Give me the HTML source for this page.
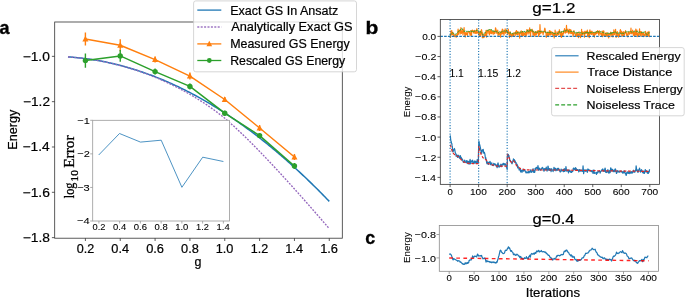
<!DOCTYPE html>
<html><head><meta charset="utf-8"><style>
html,body{margin:0;padding:0;background:#fff;width:685px;height:297px;overflow:hidden}
svg{display:block;filter:blur(0.3px)}
</style></head><body>
<svg width="685" height="297" viewBox="0 0 685 297">
<defs>
<clipPath id="clipa"><rect x="54.7" y="22.0" width="287.6" height="216.2"/></clipPath>
<clipPath id="clipb"><rect x="440.3" y="19.55" width="219.15000000000003" height="164.79999999999998"/></clipPath>
<clipPath id="clipc"><rect x="439.3" y="225.55" width="219.3" height="45.75"/></clipPath>
</defs>
<rect width="685" height="297" fill="#fff"/>
<g clip-path="url(#clipa)">
<polyline points="67.98,56.92 69.29,57.01 70.61,57.10 71.92,57.20 73.23,57.31 74.55,57.42 75.86,57.54 77.17,57.67 78.48,57.81 79.80,57.95 81.11,58.09 82.42,58.25 83.74,58.40 85.05,58.57 86.36,58.74 87.68,58.92 88.99,59.11 90.30,59.30 91.62,59.50 92.93,59.70 94.24,59.91 95.55,60.13 96.87,60.35 98.18,60.58 99.49,60.82 100.81,61.06 102.12,61.31 103.43,61.57 104.75,61.83 106.06,62.10 107.37,62.38 108.69,62.66 110.00,62.95 111.31,63.24 112.62,63.54 113.94,63.85 115.25,64.16 116.56,64.48 117.88,64.81 119.19,65.14 120.50,65.48 121.82,65.83 123.13,66.18 124.44,66.54 125.75,66.91 127.07,67.28 128.38,67.66 129.69,68.04 131.01,68.43 132.32,68.83 133.63,69.23 134.95,69.64 136.26,70.06 137.57,70.48 138.89,70.91 140.20,71.35 141.51,71.79 142.82,72.24 144.14,72.70 145.45,73.16 146.76,73.63 148.08,74.10 149.39,74.58 150.70,75.07 152.02,75.57 153.33,76.07 154.64,76.57 155.96,77.09 157.27,77.61 158.58,78.13 159.89,78.67 161.21,79.21 162.52,79.75 163.83,80.30 165.15,80.86 166.46,81.43 167.77,82.00 169.09,82.58 170.40,83.16 171.71,83.75 173.03,84.35 174.34,84.95 175.65,85.56 176.96,86.18 178.28,86.80 179.59,87.43 180.90,88.07 182.22,88.71 183.53,89.36 184.84,90.01 186.16,90.67 187.47,91.34 188.78,92.02 190.10,92.70 191.41,93.38 192.72,94.08 194.03,94.78 195.35,95.48 196.66,96.20 197.97,96.92 199.29,97.64 200.60,98.38 201.91,99.11 203.23,99.86 204.54,100.61 205.85,101.37 207.16,102.13 208.48,102.91 209.79,103.68 211.10,104.47 212.42,105.26 213.73,106.05 215.04,106.86 216.36,107.67 217.67,108.48 218.98,109.30 220.30,110.13 221.61,110.97 222.92,111.81 224.23,112.66 225.55,113.51 226.86,114.37 228.17,115.24 229.49,116.12 230.80,117.00 232.11,117.88 233.43,118.78 234.74,119.68 236.05,120.58 237.37,121.50 238.68,122.41 239.99,123.34 241.30,124.27 242.62,125.21 243.93,126.15 245.24,127.11 246.56,128.06 247.87,129.03 249.18,130.00 250.50,130.98 251.81,131.96 253.12,132.95 254.44,133.94 255.75,134.95 257.06,135.96 258.37,136.97 259.69,137.99 261.00,139.02 262.31,140.06 263.63,141.10 264.94,142.15 266.25,143.20 267.57,144.26 268.88,145.33 270.19,146.40 271.51,147.48 272.82,148.57 274.13,149.66 275.44,150.76 276.76,151.87 278.07,152.98 279.38,154.10 280.70,155.22 282.01,156.35 283.32,157.49 284.64,158.64 285.95,159.79 287.26,160.94 288.57,162.11 289.89,163.28 291.20,164.45 292.51,165.64 293.83,166.83 295.14,168.02 296.45,169.22 297.77,170.43 299.08,171.65 300.39,172.87 301.71,174.10 303.02,175.33 304.33,176.57 305.64,177.82 306.96,179.07 308.27,180.34 309.58,181.60 310.90,182.87 312.21,184.15 313.52,185.44 314.84,186.73 316.15,188.03 317.46,189.34 318.78,190.65 320.09,191.97 321.40,193.29 322.71,194.62 324.03,195.96 325.34,197.30 326.65,198.65 327.97,200.01 329.28,201.37" fill="none" stroke="#1f77b4" stroke-width="1.5" stroke-linejoin="round" />
<polyline points="67.98,56.92 69.29,57.01 70.61,57.10 71.92,57.20 73.23,57.31 74.55,57.43 75.86,57.55 77.17,57.67 78.48,57.81 79.80,57.95 81.11,58.10 82.42,58.25 83.74,58.41 85.05,58.58 86.36,58.75 87.68,58.93 88.99,59.12 90.30,59.31 91.62,59.51 92.93,59.71 94.24,59.93 95.55,60.15 96.87,60.37 98.18,60.60 99.49,60.84 100.81,61.09 102.12,61.34 103.43,61.60 104.75,61.87 106.06,62.14 107.37,62.42 108.69,62.70 110.00,62.99 111.31,63.29 112.62,63.60 113.94,63.91 115.25,64.23 116.56,64.56 117.88,64.89 119.19,65.23 120.50,65.58 121.82,65.93 123.13,66.29 124.44,66.66 125.75,67.03 127.07,67.42 128.38,67.80 129.69,68.20 131.01,68.60 132.32,69.01 133.63,69.43 134.95,69.85 136.26,70.28 137.57,70.72 138.89,71.16 140.20,71.62 141.51,72.08 142.82,72.54 144.14,73.02 145.45,73.50 146.76,73.99 148.08,74.48 149.39,74.98 150.70,75.50 152.02,76.01 153.33,76.54 154.64,77.07 155.96,77.61 157.27,78.16 158.58,78.72 159.89,79.28 161.21,79.85 162.52,80.43 163.83,81.02 165.15,81.61 166.46,82.21 167.77,82.82 169.09,83.44 170.40,84.07 171.71,84.70 173.03,85.35 174.34,86.00 175.65,86.66 176.96,87.33 178.28,88.00 179.59,88.69 180.90,89.38 182.22,90.08 183.53,90.79 184.84,91.51 186.16,92.24 187.47,92.98 188.78,93.72 190.10,94.48 191.41,95.24 192.72,96.01 194.03,96.80 195.35,97.59 196.66,98.39 197.97,99.21 199.29,100.03 200.60,100.86 201.91,101.70 203.23,102.55 204.54,103.42 205.85,104.29 207.16,105.18 208.48,106.07 209.79,106.98 211.10,107.90 212.42,108.83 213.73,109.78 215.04,110.73 216.36,111.70 217.67,112.68 218.98,113.68 220.30,114.69 221.61,115.72 222.92,116.77 224.23,117.83 225.55,118.92 226.86,120.04 228.17,121.17 229.49,122.32 230.80,123.48 232.11,124.66 233.43,125.84 234.74,127.04 236.05,128.26 237.37,129.48 238.68,130.71 239.99,131.95 241.30,133.20 242.62,134.46 243.93,135.73 245.24,137.01 246.56,138.29 247.87,139.59 249.18,140.89 250.50,142.19 251.81,143.51 253.12,144.83 254.44,146.16 255.75,147.49 257.06,148.83 258.37,150.17 259.69,151.53 261.00,152.88 262.31,154.25 263.63,155.61 264.94,156.99 266.25,158.36 267.57,159.75 268.88,161.13 270.19,162.53 271.51,163.92 272.82,165.32 274.13,166.73 275.44,168.14 276.76,169.55 278.07,170.97 279.38,172.39 280.70,173.82 282.01,175.25 283.32,176.68 284.64,178.12 285.95,179.56 287.26,181.00 288.57,182.45 289.89,183.90 291.20,185.35 292.51,186.81 293.83,188.27 295.14,189.73 296.45,191.20 297.77,192.67 299.08,194.14 300.39,195.62 301.71,197.09 303.02,198.57 304.33,200.06 305.64,201.54 306.96,203.03 308.27,204.52 309.58,206.01 310.90,207.51 312.21,209.01 313.52,210.51 314.84,212.01 316.15,213.52 317.46,215.02 318.78,216.53 320.09,218.04 321.40,219.56 322.71,221.07 324.03,222.59 325.34,224.11 326.65,225.63 327.97,227.16 329.28,228.68" fill="none" stroke="#9467bd" stroke-width="1.35" stroke-linejoin="round" stroke-dasharray="1.9 1.3"/>
<line x1="85.40" y1="32.60" x2="85.40" y2="45.60" stroke="#ff7f0e" stroke-width="1.4" />
<line x1="120.24" y1="39.20" x2="120.24" y2="51.20" stroke="#ff7f0e" stroke-width="1.4" />
<line x1="155.08" y1="56.60" x2="155.08" y2="62.60" stroke="#ff7f0e" stroke-width="1.4" />
<line x1="189.92" y1="72.60" x2="189.92" y2="79.60" stroke="#ff7f0e" stroke-width="1.4" />
<line x1="224.76" y1="97.00" x2="224.76" y2="102.00" stroke="#ff7f0e" stroke-width="1.4" />
<line x1="259.60" y1="125.00" x2="259.60" y2="131.00" stroke="#ff7f0e" stroke-width="1.4" />
<line x1="294.44" y1="154.00" x2="294.44" y2="160.00" stroke="#ff7f0e" stroke-width="1.4" />
<line x1="85.40" y1="53.40" x2="85.40" y2="67.80" stroke="#2ca02c" stroke-width="1.4" />
<line x1="120.24" y1="50.10" x2="120.24" y2="61.70" stroke="#2ca02c" stroke-width="1.4" />
<line x1="155.08" y1="68.60" x2="155.08" y2="74.60" stroke="#2ca02c" stroke-width="1.4" />
<line x1="189.92" y1="83.40" x2="189.92" y2="89.40" stroke="#2ca02c" stroke-width="1.4" />
<line x1="224.76" y1="110.70" x2="224.76" y2="115.70" stroke="#2ca02c" stroke-width="1.4" />
<line x1="259.60" y1="133.60" x2="259.60" y2="137.60" stroke="#2ca02c" stroke-width="1.4" />
<line x1="294.44" y1="163.00" x2="294.44" y2="169.00" stroke="#2ca02c" stroke-width="1.4" />
<polyline points="85.40,39.10 120.24,45.20 155.08,59.60 189.92,76.10 224.76,99.50 259.60,128.00 294.44,157.00" fill="none" stroke="#ff7f0e" stroke-width="1.5" stroke-linejoin="round" />
<polyline points="85.40,60.60 120.24,55.90 155.08,71.60 189.92,86.40 224.76,113.20 259.60,135.60 294.44,166.00" fill="none" stroke="#2ca02c" stroke-width="1.5" stroke-linejoin="round" />
<path d="M85.40,35.80 L88.43,41.58 L82.38,41.58 Z" fill="#ff7f0e"/>
<path d="M120.24,41.90 L123.27,47.68 L117.21,47.68 Z" fill="#ff7f0e"/>
<path d="M155.08,56.30 L158.10,62.08 L152.05,62.08 Z" fill="#ff7f0e"/>
<path d="M189.92,72.80 L192.94,78.57 L186.89,78.57 Z" fill="#ff7f0e"/>
<path d="M224.76,96.20 L227.78,101.97 L221.73,101.97 Z" fill="#ff7f0e"/>
<path d="M259.60,124.70 L262.62,130.47 L256.58,130.47 Z" fill="#ff7f0e"/>
<path d="M294.44,153.70 L297.46,159.47 L291.41,159.47 Z" fill="#ff7f0e"/>
<circle cx="85.40" cy="60.60" r="2.7" fill="#2ca02c"/>
<circle cx="120.24" cy="55.90" r="2.7" fill="#2ca02c"/>
<circle cx="155.08" cy="71.60" r="2.7" fill="#2ca02c"/>
<circle cx="189.92" cy="86.40" r="2.7" fill="#2ca02c"/>
<circle cx="224.76" cy="113.20" r="2.7" fill="#2ca02c"/>
<circle cx="259.60" cy="135.60" r="2.7" fill="#2ca02c"/>
<circle cx="294.44" cy="166.00" r="2.7" fill="#2ca02c"/>
</g>
<rect x="54.7" y="22.0" width="287.6" height="216.2" fill="none" stroke="#333" stroke-width="0.8"/>
<line x1="51.90" y1="56.35" x2="54.70" y2="56.35" stroke="#333" stroke-width="0.8" />
<text x="22.68" y="60.65" font-family='"Liberation Sans", sans-serif' font-size="12.19" fill="#000" stroke="#000" stroke-width="0.2" textLength="27.16" lengthAdjust="spacingAndGlyphs">−1.0</text>
<line x1="51.90" y1="101.67" x2="54.70" y2="101.67" stroke="#333" stroke-width="0.8" />
<text x="23.07" y="105.97" font-family='"Liberation Sans", sans-serif' font-size="12.19" fill="#000" stroke="#000" stroke-width="0.2" textLength="26.91" lengthAdjust="spacingAndGlyphs">−1.2</text>
<line x1="51.90" y1="146.99" x2="54.70" y2="146.99" stroke="#333" stroke-width="0.8" />
<text x="22.56" y="151.29" font-family='"Liberation Sans", sans-serif' font-size="12.19" fill="#000" stroke="#000" stroke-width="0.2" textLength="27.14" lengthAdjust="spacingAndGlyphs">−1.4</text>
<line x1="51.90" y1="192.31" x2="54.70" y2="192.31" stroke="#333" stroke-width="0.8" />
<text x="22.64" y="196.61" font-family='"Liberation Sans", sans-serif' font-size="12.19" fill="#000" stroke="#000" stroke-width="0.2" textLength="27.27" lengthAdjust="spacingAndGlyphs">−1.6</text>
<line x1="51.90" y1="237.63" x2="54.70" y2="237.63" stroke="#333" stroke-width="0.8" />
<text x="22.70" y="241.93" font-family='"Liberation Sans", sans-serif' font-size="12.19" fill="#000" stroke="#000" stroke-width="0.2" textLength="27.20" lengthAdjust="spacingAndGlyphs">−1.8</text>
<line x1="85.40" y1="238.20" x2="85.40" y2="241.00" stroke="#333" stroke-width="0.8" />
<text x="76.72" y="252.60" font-family='"Liberation Sans", sans-serif' font-size="12.19" fill="#000" stroke="#000" stroke-width="0.2" textLength="17.50" lengthAdjust="spacingAndGlyphs">0.2</text>
<line x1="120.24" y1="238.20" x2="120.24" y2="241.00" stroke="#333" stroke-width="0.8" />
<text x="111.30" y="252.60" font-family='"Liberation Sans", sans-serif' font-size="12.19" fill="#000" stroke="#000" stroke-width="0.2" textLength="17.76" lengthAdjust="spacingAndGlyphs">0.4</text>
<line x1="155.08" y1="238.20" x2="155.08" y2="241.00" stroke="#333" stroke-width="0.8" />
<text x="146.17" y="252.60" font-family='"Liberation Sans", sans-serif' font-size="12.19" fill="#000" stroke="#000" stroke-width="0.2" textLength="17.87" lengthAdjust="spacingAndGlyphs">0.6</text>
<line x1="189.92" y1="238.20" x2="189.92" y2="241.00" stroke="#333" stroke-width="0.8" />
<text x="181.05" y="252.60" font-family='"Liberation Sans", sans-serif' font-size="12.19" fill="#000" stroke="#000" stroke-width="0.2" textLength="17.80" lengthAdjust="spacingAndGlyphs">0.8</text>
<line x1="224.76" y1="238.20" x2="224.76" y2="241.00" stroke="#333" stroke-width="0.8" />
<text x="215.66" y="252.60" font-family='"Liberation Sans", sans-serif' font-size="12.19" fill="#000" stroke="#000" stroke-width="0.2" textLength="17.73" lengthAdjust="spacingAndGlyphs">1.0</text>
<line x1="259.60" y1="238.20" x2="259.60" y2="241.00" stroke="#333" stroke-width="0.8" />
<text x="250.71" y="252.60" font-family='"Liberation Sans", sans-serif' font-size="12.19" fill="#000" stroke="#000" stroke-width="0.2" textLength="17.46" lengthAdjust="spacingAndGlyphs">1.2</text>
<line x1="294.44" y1="238.20" x2="294.44" y2="241.00" stroke="#333" stroke-width="0.8" />
<text x="285.28" y="252.60" font-family='"Liberation Sans", sans-serif' font-size="12.19" fill="#000" stroke="#000" stroke-width="0.2" textLength="17.72" lengthAdjust="spacingAndGlyphs">1.4</text>
<line x1="329.28" y1="238.20" x2="329.28" y2="241.00" stroke="#333" stroke-width="0.8" />
<text x="320.15" y="252.60" font-family='"Liberation Sans", sans-serif' font-size="12.19" fill="#000" stroke="#000" stroke-width="0.2" textLength="17.84" lengthAdjust="spacingAndGlyphs">1.6</text>
<text x="194.56" y="266.00" font-family='"Liberation Sans", sans-serif' font-size="12.19" fill="#000" stroke="#000" stroke-width="0.2" textLength="6.95" lengthAdjust="spacingAndGlyphs">g</text>
<text x="-149.73" y="17.10" font-family='"Liberation Sans", sans-serif' font-size="12.19" fill="#000" stroke="#000" stroke-width="0.2" textLength="40.05" lengthAdjust="spacingAndGlyphs" transform="rotate(-90 0 0)">Energy</text>
<rect x="92.7" y="120.3" width="136.89999999999998" height="100.7" fill="#fff" stroke="#999" stroke-width="0.8"/>
<polyline points="98.70,155.00 119.50,133.50 140.50,142.10 161.20,140.20 181.90,187.30 202.70,157.20 223.40,161.50" fill="none" stroke="#1f77b4" stroke-width="0.8" stroke-linejoin="round" />
<line x1="90.20" y1="120.30" x2="92.70" y2="120.30" stroke="#999" stroke-width="0.8" />
<text x="77.27" y="123.60" font-family='"Liberation Sans", sans-serif' font-size="9.54" fill="#000" stroke="#000" stroke-width="0.08" textLength="12.56" lengthAdjust="spacingAndGlyphs">−1</text>
<line x1="90.20" y1="153.87" x2="92.70" y2="153.87" stroke="#999" stroke-width="0.8" />
<text x="77.35" y="157.17" font-family='"Liberation Sans", sans-serif' font-size="9.54" fill="#000" stroke="#000" stroke-width="0.08" textLength="12.51" lengthAdjust="spacingAndGlyphs">−2</text>
<line x1="90.20" y1="187.44" x2="92.70" y2="187.44" stroke="#999" stroke-width="0.8" />
<text x="77.16" y="190.74" font-family='"Liberation Sans", sans-serif' font-size="9.54" fill="#000" stroke="#000" stroke-width="0.08" textLength="12.63" lengthAdjust="spacingAndGlyphs">−3</text>
<line x1="90.20" y1="221.01" x2="92.70" y2="221.01" stroke="#999" stroke-width="0.8" />
<text x="76.94" y="224.31" font-family='"Liberation Sans", sans-serif' font-size="9.54" fill="#000" stroke="#000" stroke-width="0.08" textLength="12.68" lengthAdjust="spacingAndGlyphs">−4</text>
<line x1="98.92" y1="221.00" x2="98.92" y2="223.50" stroke="#999" stroke-width="0.8" />
<text x="92.51" y="230.20" font-family='"Liberation Sans", sans-serif' font-size="9.01" fill="#000" stroke="#000" stroke-width="0.08" textLength="12.94" lengthAdjust="spacingAndGlyphs">0.2</text>
<line x1="119.66" y1="221.00" x2="119.66" y2="223.50" stroke="#999" stroke-width="0.8" />
<text x="113.05" y="230.20" font-family='"Liberation Sans", sans-serif' font-size="9.01" fill="#000" stroke="#000" stroke-width="0.08" textLength="13.13" lengthAdjust="spacingAndGlyphs">0.4</text>
<line x1="140.40" y1="221.00" x2="140.40" y2="223.50" stroke="#999" stroke-width="0.8" />
<text x="133.82" y="230.20" font-family='"Liberation Sans", sans-serif' font-size="9.01" fill="#000" stroke="#000" stroke-width="0.08" textLength="13.21" lengthAdjust="spacingAndGlyphs">0.6</text>
<line x1="161.14" y1="221.00" x2="161.14" y2="223.50" stroke="#999" stroke-width="0.8" />
<text x="154.58" y="230.20" font-family='"Liberation Sans", sans-serif' font-size="9.01" fill="#000" stroke="#000" stroke-width="0.08" textLength="13.16" lengthAdjust="spacingAndGlyphs">0.8</text>
<line x1="181.88" y1="221.00" x2="181.88" y2="223.50" stroke="#999" stroke-width="0.8" />
<text x="175.15" y="230.20" font-family='"Liberation Sans", sans-serif' font-size="9.01" fill="#000" stroke="#000" stroke-width="0.08" textLength="13.11" lengthAdjust="spacingAndGlyphs">1.0</text>
<line x1="202.62" y1="221.00" x2="202.62" y2="223.50" stroke="#999" stroke-width="0.8" />
<text x="196.05" y="230.20" font-family='"Liberation Sans", sans-serif' font-size="9.01" fill="#000" stroke="#000" stroke-width="0.08" textLength="12.91" lengthAdjust="spacingAndGlyphs">1.2</text>
<line x1="223.36" y1="221.00" x2="223.36" y2="223.50" stroke="#999" stroke-width="0.8" />
<text x="216.59" y="230.20" font-family='"Liberation Sans", sans-serif' font-size="9.01" fill="#000" stroke="#000" stroke-width="0.08" textLength="13.10" lengthAdjust="spacingAndGlyphs">1.4</text>
<text x="-198.20" y="73.60" font-family='"Liberation Serif", serif' font-size="14.00" fill="#000" stroke="#000" stroke-width="0.3" textLength="15.60" lengthAdjust="spacingAndGlyphs" transform="rotate(-90 0 0)">log</text>
<text x="-181.40" y="78.40" font-family='"Liberation Serif", serif' font-size="9.80" fill="#000" stroke="#000" stroke-width="0.3" textLength="11.20" lengthAdjust="spacingAndGlyphs" transform="rotate(-90 0 0)">10</text>
<text x="-167.80" y="73.60" font-family='"Liberation Serif", serif' font-size="14.00" fill="#000" stroke="#000" stroke-width="0.3" textLength="32.40" lengthAdjust="spacingAndGlyphs" transform="rotate(-90 0 0)">Error</text>
<text x="-0.53" y="34.40" font-family='"Liberation Sans", sans-serif' font-size="19.28" font-weight="bold" fill="#000" stroke="#000" stroke-width="0.35" textLength="10.04" lengthAdjust="spacingAndGlyphs">a</text>
<rect x="193.6" y="0.9" width="162.9" height="70.9" rx="2.2" fill="#fff" fill-opacity="0.8" stroke="#cccccc" stroke-width="0.8"/>
<line x1="197.30" y1="10.10" x2="221.30" y2="10.10" stroke="#1f77b4" stroke-width="1.3" />
<line x1="197.30" y1="27.00" x2="221.30" y2="27.00" stroke="#9467bd" stroke-width="1.4" stroke-dasharray="2.0 1.4" stroke-opacity="0.9"/>
<line x1="197.30" y1="43.90" x2="221.30" y2="43.90" stroke="#ff7f0e" stroke-width="1.3" />
<path d="M209.30,40.78 L212.16,46.24 L206.44,46.24 Z" fill="#ff7f0e"/>
<line x1="197.30" y1="60.50" x2="221.30" y2="60.50" stroke="#2ca02c" stroke-width="1.3" />
<circle cx="209.30" cy="60.50" r="2.4" fill="#2ca02c"/>
<text x="230.18" y="14.50" font-family='"Liberation Sans", sans-serif' font-size="12.13" fill="#000" stroke="#000" stroke-width="0.2" textLength="108.10" lengthAdjust="spacingAndGlyphs">Exact GS In Ansatz</text>
<text x="231.18" y="31.40" font-family='"Liberation Sans", sans-serif' font-size="12.13" fill="#000" stroke="#000" stroke-width="0.2" textLength="121.30" lengthAdjust="spacingAndGlyphs">Analytically Exact GS</text>
<text x="230.18" y="48.30" font-family='"Liberation Sans", sans-serif' font-size="12.13" fill="#000" stroke="#000" stroke-width="0.2" textLength="119.47" lengthAdjust="spacingAndGlyphs">Measured GS Energy</text>
<text x="230.19" y="64.90" font-family='"Liberation Sans", sans-serif' font-size="12.13" fill="#000" stroke="#000" stroke-width="0.2" textLength="115.05" lengthAdjust="spacingAndGlyphs">Rescaled GS Energy</text>
<g clip-path="url(#clipb)">
<polyline points="450.10,37.23 450.39,37.35 450.67,35.53 450.96,30.89 451.24,33.96 451.53,34.68 451.81,30.66 452.10,34.65 452.38,33.91 452.67,34.46 452.95,32.27 453.24,35.19 453.52,35.89 453.81,35.23 454.09,34.20 454.38,36.44 454.66,36.24 454.95,36.28 455.24,37.00 455.52,35.49 455.81,35.63 456.09,35.78 456.38,34.91 456.66,37.08 456.95,36.34 457.23,33.75 457.52,35.47 457.80,32.04 458.09,29.07 458.37,34.40 458.66,32.43 458.94,31.20 459.23,30.24 459.51,31.79 459.80,31.12 460.09,34.18 460.37,32.66 460.66,31.13 460.94,27.46 461.23,32.97 461.51,33.27 461.80,31.95 462.08,30.78 462.37,31.03 462.65,30.66 462.94,34.92 463.22,33.33 463.51,29.70 463.79,30.77 464.08,27.51 464.37,32.72 464.65,33.59 464.94,36.26 465.22,37.11 465.51,32.58 465.79,33.49 466.08,34.27 466.36,34.52 466.65,32.69 466.93,34.43 467.22,34.44 467.50,35.46 467.79,33.15 468.07,31.84 468.36,31.38 468.64,32.02 468.93,31.41 469.22,31.87 469.50,33.07 469.79,33.84 470.07,35.48 470.36,34.89 470.64,33.74 470.93,30.64 471.21,32.74 471.50,35.48 471.78,31.50 472.07,30.19 472.35,30.07 472.64,30.61 472.92,31.28 473.21,30.76 473.49,32.90 473.78,31.00 474.07,32.08 474.35,31.26 474.64,30.32 474.92,33.45 475.21,32.81 475.49,33.15 475.78,32.33 476.06,30.29 476.35,33.53 476.63,31.76 476.92,28.46 477.20,32.15 477.49,33.07 477.77,32.73 478.06,32.26 478.34,31.67 478.63,33.07 478.92,34.91 479.20,35.56 479.49,34.91 479.77,33.49 480.06,30.96 480.34,35.71 480.63,35.22 480.91,33.46 481.20,32.57 481.48,29.62 481.77,30.60 482.05,33.50 482.34,37.68 482.62,32.87 482.91,33.85 483.19,37.72 483.48,37.55 483.77,36.99 484.05,37.32 484.34,34.85 484.62,34.51 484.91,35.38 485.19,36.04 485.48,32.07 485.76,35.35 486.05,30.24 486.33,30.54 486.62,37.11 486.90,32.51 487.19,33.36 487.47,30.74 487.76,30.70 488.04,29.98 488.33,30.47 488.62,31.74 488.90,33.64 489.19,33.67 489.47,35.01 489.76,31.25 490.04,29.72 490.33,32.46 490.61,33.31 490.90,30.94 491.18,30.07 491.47,33.61 491.75,32.96 492.04,32.27 492.32,31.45 492.61,32.58 492.90,33.36 493.18,34.43 493.47,31.70 493.75,31.27 494.04,32.89 494.32,31.10 494.61,33.70 494.89,33.12 495.18,32.63 495.46,27.83 495.75,28.18 496.03,30.02 496.32,31.01 496.60,30.60 496.89,33.35 497.17,33.20 497.46,33.07 497.75,30.11 498.03,35.62 498.32,34.23 498.60,34.72 498.89,32.36 499.17,32.67 499.46,33.89 499.74,33.42 500.03,35.29 500.31,34.19 500.60,37.16 500.88,31.46 501.17,31.40 501.45,34.27 501.74,32.57 502.02,31.33 502.31,29.04 502.60,33.82 502.88,29.48 503.17,32.42 503.45,32.48 503.74,33.96 504.02,35.28 504.31,32.02 504.59,30.31 504.88,31.09 505.16,28.94 505.45,33.24 505.73,32.33 506.02,32.73 506.30,30.05 506.59,30.66 506.87,30.14 507.16,32.02 507.45,33.16 507.73,34.37 508.02,32.91 508.30,28.98 508.59,33.38 508.87,33.44 509.16,32.47 509.44,37.72 509.73,35.42 510.01,31.70 510.30,32.00 510.58,33.92 510.87,34.14 511.15,36.09 511.44,36.76 511.72,34.09 512.01,34.63 512.30,36.08 512.58,34.02 512.87,33.53 513.15,35.81 513.44,35.86 513.72,32.74 514.01,33.31 514.29,33.11 514.58,33.38 514.86,32.79 515.15,35.99 515.43,32.96 515.72,31.53 516.00,33.88 516.29,30.47 516.57,30.54 516.86,34.36 517.15,31.58 517.43,31.58 517.72,34.84 518.00,34.95 518.29,33.61 518.57,33.55 518.86,31.82 519.14,33.50 519.43,33.47 519.71,38.29 520.00,33.36 520.28,33.67 520.57,32.75 520.85,33.28 521.14,30.83 521.43,31.19 521.71,36.00 522.00,31.61 522.28,31.64 522.57,33.61 522.85,35.90 523.14,31.88 523.42,34.89 523.71,32.83 523.99,35.35 524.28,34.06 524.56,33.21 524.85,34.55 525.13,34.71 525.42,32.27 525.70,36.75 525.99,33.34 526.28,35.80 526.56,32.81 526.85,29.63 527.13,29.55 527.42,31.19 527.70,32.16 527.99,34.29 528.27,33.13 528.56,32.42 528.84,29.90 529.13,31.31 529.41,32.58 529.70,27.81 529.98,33.68 530.27,34.23 530.55,36.37 530.84,30.32 531.13,31.62 531.41,31.70 531.70,29.91 531.98,29.37 532.27,29.41 532.55,32.15 532.84,32.93 533.12,35.65 533.41,33.67 533.69,31.14 533.98,33.06 534.26,33.87 534.55,34.93 534.83,36.12 535.12,33.17 535.40,34.79 535.69,31.49 535.98,32.95 536.26,34.99 536.55,33.35 536.83,33.76 537.12,31.33 537.40,31.23 537.69,33.00 537.97,30.54 538.26,30.64 538.54,36.30 538.83,34.14 539.11,31.66 539.40,30.65 539.68,34.77 539.97,24.54 540.25,31.11 540.54,33.46 540.83,31.61 541.11,33.06 541.40,30.96 541.68,31.75 541.97,32.19 542.25,32.22 542.54,32.84 542.82,32.40 543.11,34.59 543.39,32.76 543.68,31.43 543.96,32.07 544.25,31.94 544.53,29.20 544.82,28.13 545.10,28.86 545.39,32.04 545.68,31.42 545.96,32.61 546.25,37.31 546.53,36.59 546.82,33.89 547.10,32.76 547.39,35.69 547.67,32.31 547.96,34.69 548.24,34.83 548.53,36.58 548.81,32.49 549.10,34.39 549.38,30.59 549.67,32.77 549.96,34.93 550.24,35.07 550.53,31.02 550.81,34.00 551.10,34.45 551.38,33.60 551.67,31.83 551.95,32.55 552.24,32.46 552.52,34.61 552.81,34.86 553.09,36.20 553.38,36.20 553.66,32.84 553.95,33.91 554.23,37.88 554.52,33.34 554.81,35.23 555.09,30.18 555.38,32.13 555.66,33.65 555.95,35.51 556.23,35.69 556.52,35.04 556.80,35.79 557.09,31.70 557.37,35.08 557.66,34.90 557.94,34.28 558.23,33.59 558.51,31.60 558.80,34.45 559.08,32.39 559.37,29.70 559.66,31.40 559.94,31.80 560.23,33.24 560.51,36.35 560.80,33.45 561.08,33.25 561.37,37.35 561.65,31.68 561.94,32.42 562.22,34.36 562.51,35.02 562.79,36.55 563.08,33.02 563.36,34.03 563.65,32.21 563.93,30.75 564.22,30.42 564.51,28.68 564.79,31.83 565.08,33.13 565.36,30.29 565.65,32.91 565.93,30.82 566.22,28.85 566.50,25.41 566.79,31.31 567.07,32.58 567.36,31.21 567.64,30.69 567.93,29.11 568.21,31.54 568.50,32.07 568.78,33.82 569.07,33.28 569.36,30.13 569.64,29.31 569.93,32.57 570.21,29.54 570.50,32.05 570.78,33.70 571.07,29.96 571.35,33.08 571.64,33.27 571.92,33.53 572.21,31.75 572.49,32.52 572.78,33.40 573.06,36.08 573.35,35.02 573.63,33.70 573.92,30.65 574.21,32.76 574.49,32.57 574.78,33.49 575.06,33.95 575.35,35.40 575.63,35.82 575.92,35.38 576.20,34.35 576.49,36.41 576.77,32.32 577.06,33.04 577.34,35.78 577.63,33.55 577.91,35.70 578.20,35.30 578.49,37.61 578.77,36.49 579.06,31.91 579.34,33.96 579.63,34.08 579.91,35.11 580.20,34.89 580.48,37.64 580.77,36.87 581.05,32.29 581.34,32.60 581.62,29.41 581.91,35.44 582.19,34.64 582.48,34.71 582.76,31.93 583.05,32.49 583.34,34.04 583.62,32.84 583.91,32.33 584.19,31.98 584.48,37.16 584.76,34.15 585.05,31.16 585.33,31.86 585.62,32.15 585.90,33.57 586.19,32.62 586.47,31.35 586.76,32.05 587.04,33.31 587.33,30.17 587.61,36.29 587.90,36.58 588.19,32.41 588.47,32.38 588.76,34.59 589.04,36.35 589.33,37.76 589.61,31.19 589.90,29.78 590.18,31.56 590.47,33.93 590.75,31.60 591.04,33.26 591.32,34.15 591.61,34.48 591.89,30.99 592.18,32.60 592.46,33.41 592.75,32.22 593.04,34.98 593.32,33.39 593.61,35.92 593.89,32.79 594.18,35.96 594.46,37.24 594.75,32.54 595.03,33.59 595.32,34.55 595.60,32.03 595.89,33.98 596.17,33.87 596.46,31.52 596.74,32.11 597.03,33.48 597.31,32.17 597.60,30.65 597.89,32.29 598.17,31.19 598.46,33.54 598.74,35.08 599.03,35.22 599.31,30.73 599.60,32.14 599.88,33.17 600.17,32.76 600.45,33.56 600.74,34.27 601.02,33.29 601.31,33.62 601.59,35.82 601.88,36.36 602.16,31.11 602.45,36.72 602.74,33.66 603.02,35.34 603.31,30.94 603.59,32.33 603.88,31.02 604.16,35.38 604.45,36.13 604.73,35.28 605.02,34.80 605.30,35.41 605.59,33.03 605.87,33.09 606.16,33.22 606.44,36.17 606.73,35.26 607.01,32.56 607.30,35.19 607.59,35.15 607.87,36.70 608.16,33.81 608.44,35.31 608.73,38.03 609.01,34.78 609.30,33.24 609.58,34.68 609.87,33.60 610.15,34.67 610.44,33.06 610.72,32.13 611.01,36.59 611.29,34.92 611.58,32.81 611.87,33.54 612.15,32.72 612.44,34.58 612.72,35.99 613.01,37.05 613.29,33.00 613.58,32.97 613.86,29.79 614.15,33.09 614.43,34.69 614.72,32.70 615.00,31.70 615.29,30.73 615.57,29.31 615.86,33.61 616.14,37.41 616.43,33.13 616.72,36.25 617.00,34.51 617.29,31.49 617.57,33.86 617.86,35.92 618.14,35.23 618.43,34.11 618.71,37.23 619.00,34.02 619.28,35.93 619.57,35.93 619.85,32.86 620.14,30.46 620.42,29.63 620.71,32.13 620.99,33.95 621.28,31.13 621.57,32.18 621.85,36.12 622.14,31.95 622.42,34.60 622.71,34.62 622.99,35.80 623.28,32.04 623.56,34.80 623.85,31.50 624.13,35.93 624.42,32.85 624.70,34.37 624.99,32.28 625.27,33.31 625.56,30.67 625.84,32.53 626.13,33.07 626.42,32.66 626.70,35.40 626.99,34.10 627.27,34.71 627.56,34.08 627.84,36.87 628.13,32.66 628.41,32.10 628.70,32.28 628.98,33.83 629.27,33.37 629.55,34.28 629.84,33.17 630.12,31.26 630.41,31.74 630.69,33.12 630.98,28.12 631.27,33.80 631.55,32.43 631.84,32.67 632.12,33.15 632.41,32.58 632.69,30.01 632.98,31.51 633.26,34.94 633.55,35.20 633.83,35.70 634.12,32.34 634.40,31.77 634.69,34.10 634.97,35.75 635.26,33.95 635.55,31.37 635.83,28.99 636.12,34.80 636.40,30.32 636.69,32.67 636.97,30.05 637.26,36.65 637.54,34.80 637.83,33.56 638.11,34.04 638.40,33.93 638.68,36.52 638.97,35.13 639.25,32.35 639.54,28.82 639.82,32.53 640.11,32.11 640.40,35.44 640.68,31.59 640.97,33.30 641.25,31.77 641.54,31.85 641.82,36.46 642.11,34.91 642.39,33.63 642.68,35.05 642.96,32.86 643.25,32.83 643.53,33.00 643.82,36.65 644.10,34.51 644.39,35.06 644.67,35.67 644.96,34.06 645.25,33.59 645.53,31.22 645.82,34.61 646.10,35.67 646.39,34.73 646.67,36.58 646.96,32.73 647.24,35.56 647.53,32.86 647.81,32.01 648.10,33.10 648.38,36.16 648.67,32.95 648.95,31.34 649.24,35.74 649.52,37.05" fill="none" stroke="#ff7f0e" stroke-width="1.15" stroke-linejoin="round" />
<polyline points="450.10,35.59 450.39,34.63 450.67,34.52 450.96,33.79 451.24,33.42 451.53,32.75 451.81,32.50 452.10,32.72 452.38,32.63 452.67,32.84 452.95,33.44 453.24,33.51 453.52,33.40 453.81,33.59 454.09,34.56 454.38,34.60 454.66,34.83 454.95,34.90 455.24,34.73 455.52,34.53 455.81,34.12 456.09,33.69 456.38,33.07 456.66,32.55 456.95,32.63 457.23,32.69 457.52,32.68 457.80,32.20 458.09,31.47 458.37,31.54 458.66,31.48 458.94,30.50 459.23,30.74 459.51,30.70 459.80,31.02 460.09,30.00 460.37,29.23 460.66,29.49 460.94,28.53 461.23,28.58 461.51,28.58 461.80,28.66 462.08,28.41 462.37,28.98 462.65,29.87 462.94,30.25 463.22,30.53 463.51,30.44 463.79,31.16 464.08,31.28 464.37,31.62 464.65,30.85 464.94,31.19 465.22,30.75 465.51,31.07 465.79,31.20 466.08,30.74 466.36,30.99 466.65,31.54 466.93,31.60 467.22,31.67 467.50,31.14 467.79,30.89 468.07,30.58 468.36,30.92 468.64,31.56 468.93,31.66 469.22,31.55 469.50,31.06 469.79,31.40 470.07,31.35 470.36,30.67 470.64,30.35 470.93,30.72 471.21,30.74 471.50,31.78 471.78,31.77 472.07,31.32 472.35,31.16 472.64,31.85 472.92,31.21 473.21,31.47 473.49,31.45 473.78,31.80 474.07,31.60 474.35,31.07 474.64,31.07 474.92,30.85 475.21,31.03 475.49,30.69 475.78,31.25 476.06,30.74 476.35,30.70 476.63,30.24 476.92,30.28 477.20,30.26 477.49,30.31 477.77,30.63 478.06,30.25 478.34,29.90 478.63,31.24 478.92,32.74 479.20,32.82 479.49,33.16 479.77,33.13 480.06,31.67 480.34,31.60 480.63,31.94 480.91,32.08 481.20,32.10 481.48,33.32 481.77,33.35 482.05,33.83 482.34,34.50 482.62,34.70 482.91,34.72 483.19,34.70 483.48,34.14 483.77,34.27 484.05,33.39 484.34,32.94 484.62,33.32 484.91,32.78 485.19,32.76 485.48,32.08 485.76,31.63 486.05,31.34 486.33,31.17 486.62,30.78 486.90,30.59 487.19,30.64 487.47,30.79 487.76,30.35 488.04,30.23 488.33,30.32 488.62,29.55 488.90,28.86 489.19,29.69 489.47,30.04 489.76,29.72 490.04,29.65 490.33,29.26 490.61,28.91 490.90,29.43 491.18,29.08 491.47,29.88 491.75,29.79 492.04,30.18 492.32,31.12 492.61,31.72 492.90,31.28 493.18,31.56 493.47,30.91 493.75,30.72 494.04,31.02 494.32,31.63 494.61,31.25 494.89,31.49 495.18,31.48 495.46,30.97 495.75,31.14 496.03,31.92 496.32,31.78 496.60,31.96 496.89,32.23 497.17,31.77 497.46,32.29 497.75,32.72 498.03,33.03 498.32,33.12 498.60,32.48 498.89,32.06 499.17,31.74 499.46,31.52 499.74,31.44 500.03,32.12 500.31,32.73 500.60,32.28 500.88,32.59 501.17,31.91 501.45,31.81 501.74,31.46 502.02,30.97 502.31,31.32 502.60,31.51 502.88,31.40 503.17,31.26 503.45,30.96 503.74,31.09 504.02,30.96 504.31,31.18 504.59,30.71 504.88,30.97 505.16,31.21 505.45,31.62 505.73,31.76 506.02,31.47 506.30,30.92 506.59,30.10 506.87,30.31 507.16,31.42 507.45,32.67 507.73,32.03 508.02,32.60 508.30,32.74 508.59,32.56 508.87,32.96 509.16,33.15 509.44,33.06 509.73,33.21 510.01,32.70 510.30,32.65 510.58,32.66 510.87,33.40 511.15,32.85 511.44,33.10 511.72,33.66 512.01,33.67 512.30,33.87 512.58,33.34 512.87,33.40 513.15,33.57 513.44,34.14 513.72,33.83 514.01,33.86 514.29,33.26 514.58,32.88 514.86,33.18 515.15,32.91 515.43,33.03 515.72,32.75 516.00,33.10 516.29,33.56 516.57,32.57 516.86,33.07 517.15,32.83 517.43,32.72 517.72,32.45 518.00,32.64 518.29,32.04 518.57,31.86 518.86,31.76 519.14,32.15 519.43,32.66 519.71,32.91 520.00,32.94 520.28,32.47 520.57,31.70 520.85,32.08 521.14,32.18 521.43,32.30 521.71,32.78 522.00,32.40 522.28,32.13 522.57,31.11 522.85,31.61 523.14,31.65 523.42,31.37 523.71,31.63 523.99,31.19 524.28,31.10 524.56,32.03 524.85,32.07 525.13,32.14 525.42,32.09 525.70,31.99 525.99,31.73 526.28,32.41 526.56,31.86 526.85,31.84 527.13,31.43 527.42,31.12 527.70,30.09 527.99,29.66 528.27,30.78 528.56,31.41 528.84,31.01 529.13,30.92 529.41,31.10 529.70,30.56 529.98,31.33 530.27,30.65 530.55,30.36 530.84,29.35 531.13,30.44 531.41,30.50 531.70,31.15 531.98,30.48 532.27,30.72 532.55,30.80 532.84,30.93 533.12,31.80 533.41,32.44 533.69,32.50 533.98,31.87 534.26,32.04 534.55,32.37 534.83,32.28 535.12,32.28 535.40,32.27 535.69,31.76 535.98,31.94 536.26,32.64 536.55,32.05 536.83,32.17 537.12,32.58 537.40,31.98 537.69,32.15 537.97,31.67 538.26,31.73 538.54,31.41 538.83,31.41 539.11,31.55 539.40,31.70 539.68,31.80 539.97,30.96 540.25,32.03 540.54,31.91 540.83,31.49 541.11,31.41 541.40,31.72 541.68,31.35 541.97,31.35 542.25,31.31 542.54,31.67 542.82,31.35 543.11,31.62 543.39,31.73 543.68,31.57 543.96,32.01 544.25,31.87 544.53,31.33 544.82,31.63 545.10,31.76 545.39,31.80 545.68,31.95 545.96,32.92 546.25,32.68 546.53,32.65 546.82,32.37 547.10,32.85 547.39,32.62 547.67,32.21 547.96,31.81 548.24,32.30 548.53,32.71 548.81,32.04 549.10,32.02 549.38,32.57 549.67,33.08 549.96,32.47 550.24,32.47 550.53,32.98 550.81,32.75 551.10,32.66 551.38,32.59 551.67,32.25 551.95,32.60 552.24,32.92 552.52,32.45 552.81,32.78 553.09,33.40 553.38,33.42 553.66,33.74 553.95,33.35 554.23,33.89 554.52,33.37 554.81,34.14 555.09,33.68 555.38,33.31 555.66,33.03 555.95,33.07 556.23,32.98 556.52,32.81 556.80,32.81 557.09,33.18 557.37,33.46 557.66,33.10 557.94,33.48 558.23,32.79 558.51,32.33 558.80,31.98 559.08,32.43 559.37,31.80 559.66,31.46 559.94,32.29 560.23,32.93 560.51,33.13 560.80,32.09 561.08,32.03 561.37,32.29 561.65,32.12 561.94,31.30 562.22,31.31 562.51,30.76 562.79,30.60 563.08,31.84 563.36,31.97 563.65,31.17 563.93,30.66 564.22,31.12 564.51,30.95 564.79,31.30 565.08,31.01 565.36,30.99 565.65,31.13 565.93,30.69 566.22,30.05 566.50,29.94 566.79,30.05 567.07,30.30 567.36,30.49 567.64,30.57 567.93,30.84 568.21,30.51 568.50,31.26 568.78,31.99 569.07,31.79 569.36,31.63 569.64,31.99 569.93,31.98 570.21,31.83 570.50,31.62 570.78,31.29 571.07,30.94 571.35,31.50 571.64,32.07 571.92,31.54 572.21,31.64 572.49,31.84 572.78,31.74 573.06,31.56 573.35,31.63 573.63,31.07 573.92,31.52 574.21,31.70 574.49,32.78 574.78,32.96 575.06,32.57 575.35,32.48 575.63,33.13 575.92,33.49 576.20,33.15 576.49,32.83 576.77,32.12 577.06,32.15 577.34,32.25 577.63,32.09 577.91,32.99 578.20,32.10 578.49,32.28 578.77,32.61 579.06,32.83 579.34,33.48 579.63,32.64 579.91,32.41 580.20,32.62 580.48,32.77 580.77,32.66 581.05,32.45 581.34,33.07 581.62,32.60 581.91,32.52 582.19,33.29 582.48,33.88 582.76,33.89 583.05,33.22 583.34,32.83 583.62,32.59 583.91,32.35 584.19,32.51 584.48,33.29 584.76,33.35 585.05,33.00 585.33,32.79 585.62,32.52 585.90,33.32 586.19,32.46 586.47,32.83 586.76,32.35 587.04,32.19 587.33,31.90 587.61,32.68 587.90,32.72 588.19,33.85 588.47,32.99 588.76,32.43 589.04,32.75 589.33,32.91 589.61,32.64 589.90,31.77 590.18,32.61 590.47,32.74 590.75,32.73 591.04,32.30 591.32,32.52 591.61,32.15 591.89,32.15 592.18,32.06 592.46,32.59 592.75,32.21 593.04,32.03 593.32,32.50 593.61,32.42 593.89,32.28 594.18,32.10 594.46,32.46 594.75,32.03 595.03,32.22 595.32,32.95 595.60,32.74 595.89,32.13 596.17,31.59 596.46,31.81 596.74,31.38 597.03,30.98 597.31,31.06 597.60,30.97 597.89,31.71 598.17,31.26 598.46,32.25 598.74,31.94 599.03,32.13 599.31,32.50 599.60,32.56 599.88,32.83 600.17,32.34 600.45,31.55 600.74,31.94 601.02,31.61 601.31,31.88 601.59,32.68 601.88,32.73 602.16,32.63 602.45,32.38 602.74,32.60 603.02,32.80 603.31,32.39 603.59,32.92 603.88,32.72 604.16,33.09 604.45,33.01 604.73,33.53 605.02,33.78 605.30,33.58 605.59,33.41 605.87,33.51 606.16,33.94 606.44,34.07 606.73,33.77 607.01,33.65 607.30,34.07 607.59,33.03 607.87,33.27 608.16,32.83 608.44,33.45 608.73,33.08 609.01,33.01 609.30,32.56 609.58,32.73 609.87,33.13 610.15,33.72 610.44,32.89 610.72,32.71 611.01,34.34 611.29,34.13 611.58,33.61 611.87,33.51 612.15,32.16 612.44,33.06 612.72,33.01 613.01,32.34 613.29,32.97 613.58,32.62 613.86,32.24 614.15,32.63 614.43,32.81 614.72,32.56 615.00,32.56 615.29,32.05 615.57,31.69 615.86,32.41 616.14,33.03 616.43,33.09 616.72,33.12 617.00,32.85 617.29,32.81 617.57,32.48 617.86,33.39 618.14,33.02 618.43,33.20 618.71,33.17 619.00,32.61 619.28,33.63 619.57,33.33 619.85,33.02 620.14,33.20 620.42,32.92 620.71,33.15 620.99,32.91 621.28,33.39 621.57,33.50 621.85,33.01 622.14,33.63 622.42,33.58 622.71,32.99 622.99,33.18 623.28,33.28 623.56,33.88 623.85,33.10 624.13,33.29 624.42,32.98 624.70,33.04 624.99,32.68 625.27,32.51 625.56,32.59 625.84,31.92 626.13,31.12 626.42,31.43 626.70,31.41 626.99,31.56 627.27,31.84 627.56,31.63 627.84,32.02 628.13,31.76 628.41,31.67 628.70,31.89 628.98,31.91 629.27,31.64 629.55,31.55 629.84,31.13 630.12,30.93 630.41,31.08 630.69,31.44 630.98,31.14 631.27,31.46 631.55,32.08 631.84,32.53 632.12,31.93 632.41,31.97 632.69,31.80 632.98,31.76 633.26,31.75 633.55,31.60 633.83,31.62 634.12,31.40 634.40,31.15 634.69,31.24 634.97,31.41 635.26,31.84 635.55,31.78 635.83,31.92 636.12,32.30 636.40,31.61 636.69,31.50 636.97,31.77 637.26,31.76 637.54,31.36 637.83,31.95 638.11,31.91 638.40,31.54 638.68,32.50 638.97,31.83 639.25,31.96 639.54,31.81 639.82,32.05 640.11,32.40 640.40,32.08 640.68,32.20 640.97,32.28 641.25,32.00 641.54,32.72 641.82,32.78 642.11,32.65 642.39,32.45 642.68,32.48 642.96,32.72 643.25,32.64 643.53,33.30 643.82,32.20 644.10,31.72 644.39,32.21 644.67,31.89 644.96,32.44 645.25,32.55 645.53,33.14 645.82,33.45 646.10,34.00 646.39,34.16 646.67,34.40 646.96,34.26 647.24,34.40 647.53,34.26 647.81,33.74 648.10,33.18 648.38,32.86 648.67,33.35 648.95,32.50 649.24,33.03 649.52,32.98" fill="none" stroke="#2ca02c" stroke-width="1.0" stroke-linejoin="round" stroke-dasharray="2.6 1.4"/>
<polyline points="450.10,137.61 450.39,135.95 450.67,139.68 450.96,141.24 451.24,141.92 451.53,143.44 451.81,143.45 452.10,145.88 452.38,146.73 452.67,151.28 452.95,151.98 453.24,151.27 453.52,150.74 453.81,149.39 454.09,149.45 454.38,148.48 454.66,149.20 454.95,150.75 455.24,152.65 455.52,153.15 455.81,153.60 456.09,156.26 456.38,155.65 456.66,154.94 456.95,155.04 457.23,155.40 457.52,157.52 457.80,155.88 458.09,155.34 458.37,156.55 458.66,155.43 458.94,155.92 459.23,157.66 459.51,158.04 459.80,157.78 460.09,158.27 460.37,155.53 460.66,158.35 460.94,157.80 461.23,157.32 461.51,158.91 461.80,159.87 462.08,159.97 462.37,158.96 462.65,159.85 462.94,160.92 463.22,162.09 463.51,162.36 463.79,161.50 464.08,162.19 464.37,160.99 464.65,160.13 464.94,161.13 465.22,161.83 465.51,162.15 465.79,161.67 466.08,162.65 466.36,160.58 466.65,162.47 466.93,162.92 467.22,160.74 467.50,161.76 467.79,162.05 468.07,163.61 468.36,161.42 468.64,162.18 468.93,163.42 469.22,164.17 469.50,161.13 469.79,161.08 470.07,159.37 470.36,160.71 470.64,163.80 470.93,161.60 471.21,161.91 471.50,160.79 471.78,161.80 472.07,161.40 472.35,161.28 472.64,160.08 472.92,162.80 473.21,162.60 473.49,162.13 473.78,163.19 474.07,163.21 474.35,161.54 474.64,161.09 474.92,160.91 475.21,163.09 475.49,161.61 475.78,161.56 476.06,162.04 476.35,162.85 476.63,163.56 476.92,161.59 477.20,159.53 477.49,160.55 477.77,161.74 478.06,162.46 478.34,162.70 478.63,145.17 478.92,141.21 479.20,142.36 479.49,145.09 479.77,144.67 480.06,146.34 480.34,147.47 480.63,149.03 480.91,150.46 481.20,152.67 481.48,153.31 481.77,153.18 482.05,149.98 482.34,149.95 482.62,150.26 482.91,151.12 483.19,149.38 483.48,151.39 483.77,153.05 484.05,152.39 484.34,152.26 484.62,153.12 484.91,154.28 485.19,156.54 485.48,158.84 485.76,157.56 486.05,159.27 486.33,160.27 486.62,162.57 486.90,163.47 487.19,163.88 487.47,162.07 487.76,161.80 488.04,162.10 488.33,164.43 488.62,164.05 488.90,162.89 489.19,162.37 489.47,162.38 489.76,161.78 490.04,161.42 490.33,162.33 490.61,164.56 490.90,163.57 491.18,163.44 491.47,163.25 491.75,162.79 492.04,164.66 492.32,165.39 492.61,165.36 492.90,165.23 493.18,165.54 493.47,165.13 493.75,163.40 494.04,163.86 494.32,164.90 494.61,163.97 494.89,164.00 495.18,163.93 495.46,164.45 495.75,165.42 496.03,165.01 496.32,164.98 496.60,166.52 496.89,167.06 497.17,167.63 497.46,163.93 497.75,165.45 498.03,162.95 498.32,164.20 498.60,166.70 498.89,166.93 499.17,166.47 499.46,165.99 499.74,166.90 500.03,165.82 500.31,164.74 500.60,165.41 500.88,164.18 501.17,166.47 501.45,166.05 501.74,166.72 502.02,164.92 502.31,164.39 502.60,164.37 502.88,164.51 503.17,163.25 503.45,163.50 503.74,164.19 504.02,165.05 504.31,163.55 504.59,164.97 504.88,164.59 505.16,163.90 505.45,164.20 505.73,164.11 506.02,165.55 506.30,166.84 506.59,167.33 506.87,167.72 507.16,169.38 507.45,155.79 507.73,156.34 508.02,155.79 508.30,154.32 508.59,156.63 508.87,155.33 509.16,157.69 509.44,158.11 509.73,160.63 510.01,160.82 510.30,160.20 510.58,161.56 510.87,161.62 511.15,161.63 511.44,162.32 511.72,163.32 512.01,163.75 512.30,162.76 512.58,162.45 512.87,160.73 513.15,160.79 513.44,158.79 513.72,160.43 514.01,161.11 514.29,159.54 514.58,160.68 514.86,161.24 515.15,160.86 515.43,163.03 515.72,163.16 516.00,162.46 516.29,163.47 516.57,164.25 516.86,165.01 517.15,164.35 517.43,166.35 517.72,167.93 518.00,166.06 518.29,167.15 518.57,167.80 518.86,168.23 519.14,170.02 519.43,169.81 519.71,168.74 520.00,168.55 520.28,169.40 520.57,171.97 520.85,170.39 521.14,170.11 521.43,170.67 521.71,170.57 522.00,172.34 522.28,170.58 522.57,170.94 522.85,170.18 523.14,169.99 523.42,169.24 523.71,171.10 523.99,170.41 524.28,169.89 524.56,169.48 524.85,169.94 525.13,170.84 525.42,171.85 525.70,171.67 525.99,172.84 526.28,172.92 526.56,171.77 526.85,172.62 527.13,172.64 527.42,172.07 527.70,172.57 527.99,172.91 528.27,171.99 528.56,171.39 528.84,171.90 529.13,172.78 529.41,172.29 529.70,171.65 529.98,171.11 530.27,171.86 530.55,169.86 530.84,171.16 531.13,172.34 531.41,171.35 531.70,172.12 531.98,171.74 532.27,170.46 532.55,170.64 532.84,169.35 533.12,168.69 533.41,172.21 533.69,170.37 533.98,172.27 534.26,171.66 534.55,172.49 534.83,171.90 535.12,168.32 535.40,168.33 535.69,169.55 535.98,168.39 536.26,167.45 536.55,167.85 536.83,168.13 537.12,167.33 537.40,167.44 537.69,169.03 537.97,165.58 538.26,167.43 538.54,170.21 538.83,169.53 539.11,168.39 539.40,168.16 539.68,168.97 539.97,169.96 540.25,170.12 540.54,170.12 540.83,168.86 541.11,169.70 541.40,169.03 541.68,168.99 541.97,168.37 542.25,167.26 542.54,168.23 542.82,168.18 543.11,168.16 543.39,169.79 543.68,169.44 543.96,171.24 544.25,170.64 544.53,168.70 544.82,169.66 545.10,169.70 545.39,168.54 545.68,169.77 545.96,169.22 546.25,167.14 546.53,169.56 546.82,169.47 547.10,171.10 547.39,169.91 547.67,169.15 547.96,166.07 548.24,166.72 548.53,169.72 548.81,170.38 549.10,169.14 549.38,168.61 549.67,169.21 549.96,170.38 550.24,168.81 550.53,168.96 550.81,169.66 551.10,171.60 551.38,169.47 551.67,168.72 551.95,169.74 552.24,169.71 552.52,170.18 552.81,170.53 553.09,171.55 553.38,169.91 553.66,169.75 553.95,167.25 554.23,168.08 554.52,170.05 554.81,168.54 555.09,168.44 555.38,168.28 555.66,170.18 555.95,170.81 556.23,169.01 556.52,169.86 556.80,169.79 557.09,170.30 557.37,168.43 557.66,170.16 557.94,169.91 558.23,168.91 558.51,168.37 558.80,168.87 559.08,169.88 559.37,169.76 559.66,171.11 559.94,171.22 560.23,172.02 560.51,171.65 560.80,171.27 561.08,168.98 561.37,169.71 561.65,170.89 561.94,170.42 562.22,170.86 562.51,170.47 562.79,170.18 563.08,169.55 563.36,171.65 563.65,171.61 563.93,170.20 564.22,168.56 564.51,169.68 564.79,171.49 565.08,170.49 565.36,168.85 565.65,170.34 565.93,166.64 566.22,168.40 566.50,170.67 566.79,171.16 567.07,170.28 567.36,170.61 567.64,170.06 567.93,171.14 568.21,171.19 568.50,172.94 568.78,170.15 569.07,171.15 569.36,171.37 569.64,170.15 569.93,170.79 570.21,171.59 570.50,172.08 570.78,171.41 571.07,171.60 571.35,172.31 571.64,172.41 571.92,171.70 572.21,171.50 572.49,171.42 572.78,171.48 573.06,169.72 573.35,168.18 573.63,169.17 573.92,168.08 574.21,168.23 574.49,169.09 574.78,169.86 575.06,169.37 575.35,170.11 575.63,167.50 575.92,169.25 576.20,168.56 576.49,168.84 576.77,170.50 577.06,170.46 577.34,170.02 577.63,169.57 577.91,170.21 578.20,170.35 578.49,170.11 578.77,171.86 579.06,170.06 579.34,169.60 579.63,169.89 579.91,171.07 580.20,171.11 580.48,171.08 580.77,169.90 581.05,170.07 581.34,170.94 581.62,170.36 581.91,170.89 582.19,171.49 582.48,170.37 582.76,170.03 583.05,165.85 583.34,169.22 583.62,173.63 583.91,171.88 584.19,171.41 584.48,169.86 584.76,170.63 585.05,170.42 585.33,170.01 585.62,171.46 585.90,169.86 586.19,170.46 586.47,170.84 586.76,170.04 587.04,171.30 587.33,172.42 587.61,170.09 587.90,168.92 588.19,170.40 588.47,170.30 588.76,169.59 589.04,169.93 589.33,170.05 589.61,170.27 589.90,170.99 590.18,170.41 590.47,171.27 590.75,171.25 591.04,170.65 591.32,170.93 591.61,171.69 591.89,171.56 592.18,170.42 592.46,171.94 592.75,171.58 593.04,173.50 593.32,173.12 593.61,172.87 593.89,169.76 594.18,172.46 594.46,173.42 594.75,172.96 595.03,173.17 595.32,172.73 595.60,172.74 595.89,172.75 596.17,172.72 596.46,174.48 596.74,172.32 597.03,172.18 597.31,172.32 597.60,173.10 597.89,171.62 598.17,171.57 598.46,171.63 598.74,171.98 599.03,171.60 599.31,171.03 599.60,170.85 599.88,171.43 600.17,173.09 600.45,171.98 600.74,171.35 601.02,171.45 601.31,170.74 601.59,170.50 601.88,169.69 602.16,170.45 602.45,170.43 602.74,168.96 603.02,170.22 603.31,171.27 603.59,170.22 603.88,170.65 604.16,170.03 604.45,171.49 604.73,169.68 605.02,168.01 605.30,168.74 605.59,172.01 605.87,172.41 606.16,172.14 606.44,171.83 606.73,172.51 607.01,171.09 607.30,170.83 607.59,170.95 607.87,169.50 608.16,172.31 608.44,172.55 608.73,172.05 609.01,173.28 609.30,170.91 609.58,170.65 609.87,172.57 610.15,172.65 610.44,169.83 610.72,167.73 611.01,168.51 611.29,170.79 611.58,169.93 611.87,169.31 612.15,170.70 612.44,169.39 612.72,169.72 613.01,171.14 613.29,171.67 613.58,171.43 613.86,170.34 614.15,170.93 614.43,170.01 614.72,171.59 615.00,169.40 615.29,168.91 615.57,169.38 615.86,170.22 616.14,171.91 616.43,173.50 616.72,173.20 617.00,172.07 617.29,170.89 617.57,171.83 617.86,170.71 618.14,171.74 618.43,171.03 618.71,172.11 619.00,172.06 619.28,171.87 619.57,172.15 619.85,171.10 620.14,171.74 620.42,171.03 620.71,171.02 620.99,171.93 621.28,171.83 621.57,171.36 621.85,171.28 622.14,171.90 622.42,172.73 622.71,171.91 622.99,173.37 623.28,172.71 623.56,172.10 623.85,171.04 624.13,171.40 624.42,172.47 624.70,170.89 624.99,173.05 625.27,173.86 625.56,173.22 625.84,173.61 626.13,175.48 626.42,174.73 626.70,172.70 626.99,173.05 627.27,172.72 627.56,172.69 627.84,171.60 628.13,173.29 628.41,172.69 628.70,172.67 628.98,172.27 629.27,173.67 629.55,172.85 629.84,171.53 630.12,171.94 630.41,173.07 630.69,172.33 630.98,173.03 631.27,172.77 631.55,171.59 631.84,173.11 632.12,171.83 632.41,173.00 632.69,171.86 632.98,172.18 633.26,171.03 633.55,170.23 633.83,171.88 634.12,172.00 634.40,172.23 634.69,171.65 634.97,172.09 635.26,170.71 635.55,169.99 635.83,170.57 636.12,165.93 636.40,167.80 636.69,170.60 636.97,170.66 637.26,169.82 637.54,171.90 637.83,171.90 638.11,172.32 638.40,170.92 638.68,170.08 638.97,169.08 639.25,169.95 639.54,168.06 639.82,169.18 640.11,170.67 640.40,171.84 640.68,172.15 640.97,170.46 641.25,170.87 641.54,169.70 641.82,170.88 642.11,170.57 642.39,171.24 642.68,172.74 642.96,171.96 643.25,173.17 643.53,172.26 643.82,171.15 644.10,172.73 644.39,173.49 644.67,171.35 644.96,171.43 645.25,169.60 645.53,170.24 645.82,171.86 646.10,171.37 646.39,170.74 646.67,170.72 646.96,171.87 647.24,172.80 647.53,173.25 647.81,172.91 648.10,171.33 648.38,173.47 648.67,171.72 648.95,171.89 649.24,172.02 649.52,169.25" fill="none" stroke="#1f77b4" stroke-width="1.2" stroke-linejoin="round" />
<polyline points="450.10,144.80 450.39,145.08 450.67,146.00 450.96,146.93 451.24,147.86 451.53,148.80 451.81,149.88 452.10,150.97 452.38,152.05 452.67,152.67 452.95,152.95 453.24,153.24 453.52,153.52 453.81,153.81 454.09,154.09 454.38,154.38 454.66,154.66 454.95,154.95 455.24,155.12 455.52,155.26 455.81,155.40 456.09,155.55 456.38,155.69 456.66,155.83 456.95,155.97 457.23,156.12 457.52,156.26 457.80,156.40 458.09,156.59 458.37,156.87 458.66,157.16 458.94,157.44 459.23,157.73 459.51,158.01 459.80,158.30 460.09,158.59 460.37,158.87 460.66,159.16 460.94,159.44 461.23,159.73 461.51,160.01 461.80,160.30 462.08,160.58 462.37,160.87 462.65,161.15 462.94,161.44 463.22,161.61 463.51,161.75 463.79,161.90 464.08,162.04 464.37,162.18 464.65,162.33 464.94,162.47 465.22,162.61 465.51,162.75 465.79,162.90 466.08,163.01 466.36,163.05 466.65,163.08 466.93,163.12 467.22,163.15 467.50,163.19 467.79,163.22 468.07,163.26 468.36,163.29 468.64,163.33 468.93,163.37 469.22,163.40 469.50,163.44 469.79,163.47 470.07,163.50 470.36,163.50 470.64,163.51 470.93,163.51 471.21,163.51 471.50,163.52 471.78,163.52 472.07,163.52 472.35,163.53 472.64,163.53 472.92,163.53 473.21,163.54 473.49,163.54 473.78,163.54 474.07,163.55 474.35,163.55 474.64,163.56 474.92,163.56 475.21,163.56 475.49,163.57 475.78,163.57 476.06,163.57 476.35,163.58 476.63,163.58 476.92,163.58 477.20,163.59 477.49,163.59 477.77,163.59 478.06,163.60 478.34,163.60 478.63,149.34 478.92,146.06 479.20,147.46 479.49,148.87 479.77,150.27 480.06,151.54 480.34,152.27 480.63,152.99 480.91,153.71 481.20,154.43 481.48,155.16 481.77,155.67 482.05,156.16 482.34,156.65 482.62,157.15 482.91,157.64 483.19,157.92 483.48,158.09 483.77,158.26 484.05,158.43 484.34,158.60 484.62,158.77 484.91,158.94 485.19,159.17 485.48,159.41 485.76,159.66 486.05,159.91 486.33,160.16 486.62,160.55 486.90,161.16 487.19,161.77 487.47,162.38 487.76,162.99 488.04,163.51 488.33,163.61 488.62,163.70 488.90,163.79 489.19,163.89 489.47,163.98 489.76,164.07 490.04,164.16 490.33,164.26 490.61,164.35 490.90,164.44 491.18,164.53 491.47,164.63 491.75,164.72 492.04,164.81 492.32,164.88 492.61,164.96 492.90,165.03 493.18,165.11 493.47,165.18 493.75,165.26 494.04,165.33 494.32,165.40 494.61,165.48 494.89,165.55 495.18,165.63 495.46,165.70 495.75,165.77 496.03,165.85 496.32,165.92 496.60,166.00 496.89,166.07 497.17,166.10 497.46,166.10 497.75,166.10 498.03,166.10 498.32,166.10 498.60,166.10 498.89,166.10 499.17,166.10 499.46,166.10 499.74,166.10 500.03,166.10 500.31,166.10 500.60,166.10 500.88,166.10 501.17,166.10 501.45,166.10 501.74,166.10 502.02,166.10 502.31,166.10 502.60,166.10 502.88,166.10 503.17,166.10 503.45,166.10 503.74,166.10 504.02,166.10 504.31,166.10 504.59,166.10 504.88,166.10 505.16,166.10 505.45,166.10 505.73,166.10 506.02,166.10 506.30,166.10 506.59,166.10 506.87,166.10 507.16,166.10 507.45,154.10 507.73,154.70 508.02,155.31 508.30,155.92 508.59,156.52 508.87,157.13 509.16,157.82 509.44,158.58 509.73,159.34 510.01,160.10 510.30,160.86 510.58,161.47 510.87,161.70 511.15,161.92 511.44,162.15 511.72,162.38 512.01,162.59 512.30,162.25 512.58,161.90 512.87,161.56 513.15,161.22 513.44,160.88 513.72,161.05 514.01,161.37 514.29,161.70 514.58,162.02 514.86,162.34 515.15,162.81 515.43,163.40 515.72,163.99 516.00,164.58 516.29,165.17 516.57,165.66 516.86,165.88 517.15,166.10 517.43,166.32 517.72,166.54 518.00,166.76 518.29,166.98 518.57,167.20 518.86,167.42 519.14,167.64 519.43,167.86 519.71,168.08 520.00,168.30 520.28,168.39 520.57,168.48 520.85,168.58 521.14,168.67 521.43,168.76 521.71,168.86 522.00,168.95 522.28,169.04 522.57,169.13 522.85,169.23 523.14,169.32 523.42,169.41 523.71,169.50 523.99,169.60 524.28,169.62 524.56,169.64 524.85,169.66 525.13,169.68 525.42,169.69 525.70,169.71 525.99,169.73 526.28,169.75 526.56,169.77 526.85,169.79 527.13,169.81 527.42,169.83 527.70,169.85 527.99,169.87 528.27,169.88 528.56,169.90 528.84,169.92 529.13,169.94 529.41,169.96 529.70,169.98 529.98,170.00 530.27,170.00 530.55,170.00 530.84,170.00 531.13,170.00 531.41,170.00 531.70,170.00 531.98,170.00 532.27,170.00 532.55,170.00 532.84,170.00 533.12,170.00 533.41,170.00 533.69,170.00 533.98,170.00 534.26,170.00 534.55,170.00 534.83,170.00 535.12,170.00 535.40,170.00 535.69,170.00 535.98,170.00 536.26,170.00 536.55,170.00 536.83,170.00 537.12,170.00 537.40,170.00 537.69,170.00 537.97,170.00 538.26,170.00 538.54,170.00 538.83,170.00 539.11,170.00 539.40,170.00 539.68,170.00 539.97,170.00 540.25,170.00 540.54,170.00 540.83,170.00 541.11,170.00 541.40,170.00 541.68,170.00 541.97,170.00 542.25,170.00 542.54,170.00 542.82,170.00 543.11,170.00 543.39,170.00 543.68,170.00 543.96,170.00 544.25,170.00 544.53,170.00 544.82,170.00 545.10,170.00 545.39,170.00 545.68,170.00 545.96,170.00 546.25,170.00 546.53,170.00 546.82,170.00 547.10,170.00 547.39,170.00 547.67,170.00 547.96,170.00 548.24,170.00 548.53,170.00 548.81,170.00 549.10,170.00 549.38,170.00 549.67,170.00 549.96,170.00 550.24,170.00 550.53,170.00 550.81,170.00 551.10,170.00 551.38,170.00 551.67,170.00 551.95,170.00 552.24,170.00 552.52,170.00 552.81,170.00 553.09,170.00 553.38,170.00 553.66,170.00 553.95,170.00 554.23,170.00 554.52,170.00 554.81,170.00 555.09,170.00 555.38,170.00 555.66,170.00 555.95,170.00 556.23,170.00 556.52,170.00 556.80,170.00 557.09,170.00 557.37,170.00 557.66,170.00 557.94,170.00 558.23,170.00 558.51,170.00 558.80,170.00 559.08,170.00 559.37,170.00 559.66,170.00 559.94,170.00 560.23,170.00 560.51,170.01 560.80,170.02 561.08,170.02 561.37,170.03 561.65,170.03 561.94,170.04 562.22,170.04 562.51,170.05 562.79,170.06 563.08,170.06 563.36,170.07 563.65,170.07 563.93,170.08 564.22,170.08 564.51,170.09 564.79,170.10 565.08,170.10 565.36,170.11 565.65,170.11 565.93,170.12 566.22,170.12 566.50,170.13 566.79,170.14 567.07,170.14 567.36,170.15 567.64,170.15 567.93,170.16 568.21,170.16 568.50,170.17 568.78,170.18 569.07,170.18 569.36,170.19 569.64,170.19 569.93,170.20 570.21,170.20 570.50,170.21 570.78,170.22 571.07,170.22 571.35,170.23 571.64,170.23 571.92,170.24 572.21,170.24 572.49,170.25 572.78,170.26 573.06,170.26 573.35,170.27 573.63,170.27 573.92,170.28 574.21,170.28 574.49,170.29 574.78,170.30 575.06,170.30 575.35,170.31 575.63,170.31 575.92,170.32 576.20,170.32 576.49,170.33 576.77,170.34 577.06,170.34 577.34,170.35 577.63,170.35 577.91,170.36 578.20,170.36 578.49,170.37 578.77,170.38 579.06,170.38 579.34,170.39 579.63,170.39 579.91,170.40 580.20,170.40 580.48,170.41 580.77,170.42 581.05,170.42 581.34,170.43 581.62,170.43 581.91,170.44 582.19,170.44 582.48,170.45 582.76,170.46 583.05,170.46 583.34,170.47 583.62,170.47 583.91,170.48 584.19,170.48 584.48,170.49 584.76,170.50 585.05,170.50 585.33,170.51 585.62,170.51 585.90,170.52 586.19,170.52 586.47,170.53 586.76,170.54 587.04,170.54 587.33,170.55 587.61,170.55 587.90,170.56 588.19,170.56 588.47,170.57 588.76,170.58 589.04,170.58 589.33,170.59 589.61,170.59 589.90,170.60 590.18,170.60 590.47,170.61 590.75,170.62 591.04,170.62 591.32,170.63 591.61,170.63 591.89,170.64 592.18,170.64 592.46,170.65 592.75,170.66 593.04,170.66 593.32,170.67 593.61,170.67 593.89,170.68 594.18,170.68 594.46,170.69 594.75,170.69 595.03,170.70 595.32,170.71 595.60,170.71 595.89,170.72 596.17,170.72 596.46,170.73 596.74,170.73 597.03,170.74 597.31,170.75 597.60,170.75 597.89,170.76 598.17,170.76 598.46,170.77 598.74,170.77 599.03,170.78 599.31,170.79 599.60,170.79 599.88,170.80 600.17,170.80 600.45,170.81 600.74,170.81 601.02,170.81 601.31,170.82 601.59,170.82 601.88,170.82 602.16,170.83 602.45,170.83 602.74,170.83 603.02,170.84 603.31,170.84 603.59,170.84 603.88,170.85 604.16,170.85 604.45,170.85 604.73,170.86 605.02,170.86 605.30,170.86 605.59,170.87 605.87,170.87 606.16,170.87 606.44,170.88 606.73,170.88 607.01,170.88 607.30,170.89 607.59,170.89 607.87,170.89 608.16,170.90 608.44,170.90 608.73,170.91 609.01,170.91 609.30,170.91 609.58,170.92 609.87,170.92 610.15,170.92 610.44,170.93 610.72,170.93 611.01,170.93 611.29,170.94 611.58,170.94 611.87,170.94 612.15,170.95 612.44,170.95 612.72,170.95 613.01,170.96 613.29,170.96 613.58,170.96 613.86,170.97 614.15,170.97 614.43,170.97 614.72,170.98 615.00,170.98 615.29,170.98 615.57,170.99 615.86,170.99 616.14,170.99 616.43,171.00 616.72,171.00 617.00,171.00 617.29,171.01 617.57,171.01 617.86,171.02 618.14,171.02 618.43,171.02 618.71,171.03 619.00,171.03 619.28,171.03 619.57,171.04 619.85,171.04 620.14,171.04 620.42,171.05 620.71,171.05 620.99,171.05 621.28,171.06 621.57,171.06 621.85,171.06 622.14,171.07 622.42,171.07 622.71,171.07 622.99,171.08 623.28,171.08 623.56,171.08 623.85,171.09 624.13,171.09 624.42,171.09 624.70,171.10 624.99,171.10 625.27,171.10 625.56,171.11 625.84,171.11 626.13,171.11 626.42,171.12 626.70,171.12 626.99,171.13 627.27,171.13 627.56,171.13 627.84,171.14 628.13,171.14 628.41,171.14 628.70,171.15 628.98,171.15 629.27,171.15 629.55,171.16 629.84,171.16 630.12,171.16 630.41,171.17 630.69,171.17 630.98,171.17 631.27,171.18 631.55,171.18 631.84,171.18 632.12,171.19 632.41,171.19 632.69,171.19 632.98,171.20 633.26,171.20 633.55,171.20 633.83,171.21 634.12,171.21 634.40,171.21 634.69,171.22 634.97,171.22 635.26,171.22 635.55,171.23 635.83,171.23 636.12,171.24 636.40,171.24 636.69,171.24 636.97,171.25 637.26,171.25 637.54,171.25 637.83,171.26 638.11,171.26 638.40,171.26 638.68,171.27 638.97,171.27 639.25,171.27 639.54,171.28 639.82,171.28 640.11,171.28 640.40,171.29 640.68,171.29 640.97,171.29 641.25,171.30 641.54,171.30 641.82,171.30 642.11,171.31 642.39,171.31 642.68,171.31 642.96,171.32 643.25,171.32 643.53,171.32 643.82,171.33 644.10,171.33 644.39,171.33 644.67,171.34 644.96,171.34 645.25,171.35 645.53,171.35 645.82,171.35 646.10,171.36 646.39,171.36 646.67,171.36 646.96,171.37 647.24,171.37 647.53,171.37 647.81,171.38 648.10,171.38 648.38,171.38 648.67,171.39 648.95,171.39 649.24,171.39 649.52,171.40" fill="none" stroke="#e02828" stroke-width="1.2" stroke-linejoin="round" stroke-dasharray="2.8 1.6"/>
<line x1="450.10" y1="19.55" x2="450.10" y2="184.35" stroke="#1f77b4" stroke-width="1.15" stroke-dasharray="1.15 1.7"/>
<line x1="478.63" y1="19.55" x2="478.63" y2="184.35" stroke="#1f77b4" stroke-width="1.15" stroke-dasharray="1.15 1.7"/>
<line x1="507.16" y1="19.55" x2="507.16" y2="184.35" stroke="#1f77b4" stroke-width="1.15" stroke-dasharray="1.15 1.7"/>
<line x1="440.30" y1="36.40" x2="659.45" y2="36.40" stroke="#1f77b4" stroke-width="1.1" stroke-dasharray="2.6 1.2"/>
</g>
<rect x="440.3" y="19.55" width="219.15000000000003" height="164.79999999999998" fill="none" stroke="#333" stroke-width="0.8"/>
<line x1="437.50" y1="36.40" x2="440.30" y2="36.40" stroke="#333" stroke-width="0.8" />
<text x="422.29" y="39.90" font-family='"Liberation Sans", sans-serif' font-size="9.85" fill="#000" stroke="#000" stroke-width="0.08" textLength="13.90" lengthAdjust="spacingAndGlyphs">0.0</text>
<line x1="437.50" y1="56.54" x2="440.30" y2="56.54" stroke="#333" stroke-width="0.8" />
<text x="415.27" y="60.04" font-family='"Liberation Sans", sans-serif' font-size="9.85" fill="#000" stroke="#000" stroke-width="0.08" textLength="21.06" lengthAdjust="spacingAndGlyphs">−0.2</text>
<line x1="437.50" y1="76.68" x2="440.30" y2="76.68" stroke="#333" stroke-width="0.8" />
<text x="414.87" y="80.18" font-family='"Liberation Sans", sans-serif' font-size="9.85" fill="#000" stroke="#000" stroke-width="0.08" textLength="21.24" lengthAdjust="spacingAndGlyphs">−0.4</text>
<line x1="437.50" y1="96.82" x2="440.30" y2="96.82" stroke="#333" stroke-width="0.8" />
<text x="414.93" y="100.32" font-family='"Liberation Sans", sans-serif' font-size="9.85" fill="#000" stroke="#000" stroke-width="0.08" textLength="21.34" lengthAdjust="spacingAndGlyphs">−0.6</text>
<line x1="437.50" y1="116.96" x2="440.30" y2="116.96" stroke="#333" stroke-width="0.8" />
<text x="414.98" y="120.46" font-family='"Liberation Sans", sans-serif' font-size="9.85" fill="#000" stroke="#000" stroke-width="0.08" textLength="21.29" lengthAdjust="spacingAndGlyphs">−0.8</text>
<line x1="437.50" y1="137.10" x2="440.30" y2="137.10" stroke="#333" stroke-width="0.8" />
<text x="414.97" y="140.60" font-family='"Liberation Sans", sans-serif' font-size="9.85" fill="#000" stroke="#000" stroke-width="0.08" textLength="21.25" lengthAdjust="spacingAndGlyphs">−1.0</text>
<line x1="437.50" y1="157.24" x2="440.30" y2="157.24" stroke="#333" stroke-width="0.8" />
<text x="415.27" y="160.74" font-family='"Liberation Sans", sans-serif' font-size="9.85" fill="#000" stroke="#000" stroke-width="0.08" textLength="21.06" lengthAdjust="spacingAndGlyphs">−1.2</text>
<line x1="437.50" y1="177.38" x2="440.30" y2="177.38" stroke="#333" stroke-width="0.8" />
<text x="414.87" y="180.88" font-family='"Liberation Sans", sans-serif' font-size="9.85" fill="#000" stroke="#000" stroke-width="0.08" textLength="21.24" lengthAdjust="spacingAndGlyphs">−1.4</text>
<line x1="450.10" y1="184.35" x2="450.10" y2="187.15" stroke="#333" stroke-width="0.8" />
<text x="447.43" y="195.20" font-family='"Liberation Sans", sans-serif' font-size="9.85" fill="#000" stroke="#000" stroke-width="0.08" textLength="5.33" lengthAdjust="spacingAndGlyphs">0</text>
<line x1="478.63" y1="184.35" x2="478.63" y2="187.15" stroke="#333" stroke-width="0.8" />
<text x="469.97" y="195.20" font-family='"Liberation Sans", sans-serif' font-size="9.85" fill="#000" stroke="#000" stroke-width="0.08" textLength="16.93" lengthAdjust="spacingAndGlyphs">100</text>
<line x1="507.16" y1="184.35" x2="507.16" y2="187.15" stroke="#333" stroke-width="0.8" />
<text x="498.60" y="195.20" font-family='"Liberation Sans", sans-serif' font-size="9.85" fill="#000" stroke="#000" stroke-width="0.08" textLength="17.01" lengthAdjust="spacingAndGlyphs">200</text>
<line x1="535.69" y1="184.35" x2="535.69" y2="187.15" stroke="#333" stroke-width="0.8" />
<text x="527.27" y="195.20" font-family='"Liberation Sans", sans-serif' font-size="9.85" fill="#000" stroke="#000" stroke-width="0.08" textLength="16.85" lengthAdjust="spacingAndGlyphs">300</text>
<line x1="564.22" y1="184.35" x2="564.22" y2="187.15" stroke="#333" stroke-width="0.8" />
<text x="555.83" y="195.20" font-family='"Liberation Sans", sans-serif' font-size="9.85" fill="#000" stroke="#000" stroke-width="0.08" textLength="16.95" lengthAdjust="spacingAndGlyphs">400</text>
<line x1="592.75" y1="184.35" x2="592.75" y2="187.15" stroke="#333" stroke-width="0.8" />
<text x="584.31" y="195.20" font-family='"Liberation Sans", sans-serif' font-size="9.85" fill="#000" stroke="#000" stroke-width="0.08" textLength="16.86" lengthAdjust="spacingAndGlyphs">500</text>
<line x1="621.28" y1="184.35" x2="621.28" y2="187.15" stroke="#333" stroke-width="0.8" />
<text x="612.70" y="195.20" font-family='"Liberation Sans", sans-serif' font-size="9.85" fill="#000" stroke="#000" stroke-width="0.08" textLength="17.05" lengthAdjust="spacingAndGlyphs">600</text>
<line x1="649.81" y1="184.35" x2="649.81" y2="187.15" stroke="#333" stroke-width="0.8" />
<text x="641.28" y="195.20" font-family='"Liberation Sans", sans-serif' font-size="9.85" fill="#000" stroke="#000" stroke-width="0.08" textLength="16.94" lengthAdjust="spacingAndGlyphs">700</text>
<text x="-117.21" y="410.30" font-family='"Liberation Sans", sans-serif' font-size="9.96" fill="#000" stroke="#000" stroke-width="0.08" textLength="30.65" lengthAdjust="spacingAndGlyphs" transform="rotate(-90 0 0)">Energy</text>
<text x="449.51" y="77.30" font-family='"Liberation Sans", sans-serif' font-size="10.17" fill="#000" stroke="#000" stroke-width="0.08" textLength="14.34" lengthAdjust="spacingAndGlyphs">1.1</text>
<text x="478.04" y="77.30" font-family='"Liberation Sans", sans-serif' font-size="10.17" fill="#000" stroke="#000" stroke-width="0.08" textLength="20.31" lengthAdjust="spacingAndGlyphs">1.15</text>
<text x="506.58" y="77.30" font-family='"Liberation Sans", sans-serif' font-size="10.17" fill="#000" stroke="#000" stroke-width="0.08" textLength="14.27" lengthAdjust="spacingAndGlyphs">1.2</text>
<text x="532.38" y="13.20" font-family='"Liberation Sans", sans-serif' font-size="15.26" fill="#000" stroke="#000" stroke-width="0.2" textLength="43.15" lengthAdjust="spacingAndGlyphs">g=1.2</text>
<text x="365.52" y="34.40" font-family='"Liberation Sans", sans-serif' font-size="19.07" font-weight="bold" fill="#000" stroke="#000" stroke-width="0.35" textLength="12.81" lengthAdjust="spacingAndGlyphs">b</text>
<rect x="551.6" y="47.6" width="132.6" height="68.2" rx="2.2" fill="#fff" fill-opacity="0.8" stroke="#cccccc" stroke-width="0.8"/>
<line x1="555.20" y1="55.80" x2="578.60" y2="55.80" stroke="#1f77b4" stroke-width="1.1" />
<line x1="555.20" y1="72.10" x2="578.60" y2="72.10" stroke="#ff7f0e" stroke-width="1.1" />
<line x1="555.20" y1="88.40" x2="578.60" y2="88.40" stroke="#e35050" stroke-width="1.2" stroke-dasharray="3.9 2.1"/>
<line x1="555.20" y1="104.90" x2="578.60" y2="104.90" stroke="#2ca02c" stroke-width="1.1" stroke-dasharray="3.9 2.1"/>
<text x="586.59" y="60.00" font-family='"Liberation Sans", sans-serif' font-size="11.76" fill="#000" stroke="#000" stroke-width="0.2" textLength="94.04" lengthAdjust="spacingAndGlyphs">Rescaled Energy</text>
<text x="587.32" y="76.30" font-family='"Liberation Sans", sans-serif' font-size="11.76" fill="#000" stroke="#000" stroke-width="0.2" textLength="84.92" lengthAdjust="spacingAndGlyphs">Trace Distance</text>
<text x="586.59" y="92.60" font-family='"Liberation Sans", sans-serif' font-size="11.76" fill="#000" stroke="#000" stroke-width="0.2" textLength="96.16" lengthAdjust="spacingAndGlyphs">Noiseless Energy</text>
<text x="586.59" y="109.10" font-family='"Liberation Sans", sans-serif' font-size="11.76" fill="#000" stroke="#000" stroke-width="0.2" textLength="88.29" lengthAdjust="spacingAndGlyphs">Noiseless Trace</text>
<g clip-path="url(#clipc)">
<polyline points="449.20,253.90 449.70,254.23 450.20,253.83 450.69,254.33 451.19,254.90 451.69,256.06 452.19,257.62 452.69,259.08 453.18,259.89 453.68,258.46 454.18,259.16 454.68,259.18 455.18,259.47 455.67,259.74 456.17,260.09 456.67,260.22 457.17,260.59 457.67,261.26 458.16,260.81 458.66,260.71 459.16,260.89 459.66,261.02 460.16,262.27 460.65,261.88 461.15,262.43 461.65,262.88 462.15,263.61 462.65,263.61 463.14,264.37 463.64,264.10 464.14,264.22 464.64,264.29 465.14,262.76 465.63,263.08 466.13,263.84 466.63,263.18 467.13,262.50 467.63,263.43 468.12,262.60 468.62,262.80 469.12,260.32 469.62,260.37 470.12,259.75 470.61,259.77 471.11,260.05 471.61,259.07 472.11,258.29 472.61,255.96 473.10,256.89 473.60,257.46 474.10,256.92 474.60,256.13 475.10,256.16 475.59,256.47 476.09,256.25 476.59,256.94 477.09,255.44 477.59,254.04 478.08,254.88 478.58,256.05 479.08,255.70 479.58,255.99 480.08,255.90 480.57,255.63 481.07,256.01 481.57,255.50 482.07,256.94 482.57,257.94 483.06,258.88 483.56,258.41 484.06,258.46 484.56,257.97 485.06,258.04 485.55,259.76 486.05,262.04 486.55,260.83 487.05,260.70 487.55,261.59 488.04,261.07 488.54,261.74 489.04,261.60 489.54,261.63 490.04,262.53 490.53,262.32 491.03,261.66 491.53,262.73 492.03,262.64 492.53,262.21 493.02,261.82 493.52,262.51 494.02,262.00 494.52,262.28 495.02,262.98 495.51,262.59 496.01,263.16 496.51,261.83 497.01,262.41 497.51,260.51 498.00,259.34 498.50,256.90 499.00,255.48 499.50,253.27 500.00,250.76 500.49,250.13 500.99,250.68 501.49,252.22 501.99,252.29 502.49,253.15 502.98,253.59 503.48,253.66 503.98,253.25 504.48,253.16 504.98,251.15 505.47,250.32 505.97,250.18 506.47,250.38 506.97,249.83 507.47,248.49 507.96,247.94 508.46,246.80 508.96,248.43 509.46,247.82 509.96,249.07 510.45,250.52 510.95,251.43 511.45,250.56 511.95,251.62 512.45,252.08 512.94,252.64 513.44,254.48 513.94,254.82 514.44,254.17 514.94,254.14 515.43,255.20 515.93,255.47 516.43,254.77 516.93,254.12 517.43,254.57 517.92,254.92 518.42,255.96 518.92,255.70 519.42,256.64 519.92,257.62 520.41,256.45 520.91,256.69 521.41,258.36 521.91,258.07 522.41,258.36 522.90,259.32 523.40,258.83 523.90,258.65 524.40,257.67 524.90,258.57 525.39,258.30 525.89,258.20 526.39,256.67 526.89,258.17 527.39,258.70 527.88,257.95 528.38,258.78 528.88,256.38 529.38,256.48 529.88,255.23 530.37,257.22 530.87,254.49 531.37,253.78 531.87,253.48 532.37,254.09 532.86,254.17 533.36,253.80 533.86,253.14 534.36,254.24 534.86,252.81 535.35,252.64 535.85,253.37 536.35,251.67 536.85,250.97 537.35,251.75 537.84,251.59 538.34,250.38 538.84,250.66 539.34,252.01 539.84,251.24 540.33,251.53 540.83,251.21 541.33,250.50 541.83,251.62 542.33,251.74 542.82,251.95 543.32,251.49 543.82,251.59 544.32,251.87 544.82,252.31 545.31,252.17 545.81,252.15 546.31,253.74 546.81,253.40 547.31,254.02 547.80,254.73 548.30,255.30 548.80,255.21 549.30,255.66 549.80,257.12 550.29,257.30 550.79,257.35 551.29,259.15 551.79,258.30 552.29,259.63 552.78,260.05 553.28,258.94 553.78,258.67 554.28,258.38 554.78,259.17 555.27,259.15 555.77,258.19 556.27,256.97 556.77,255.85 557.27,256.12 557.76,255.28 558.26,255.50 558.76,255.43 559.26,255.61 559.76,255.95 560.25,255.37 560.75,255.16 561.25,254.47 561.75,254.75 562.25,254.58 562.74,254.83 563.24,254.48 563.74,252.69 564.24,251.06 564.74,251.38 565.23,251.61 565.73,250.29 566.23,250.80 566.73,249.99 567.23,250.82 567.72,252.11 568.22,252.18 568.72,252.64 569.22,254.12 569.72,254.22 570.21,255.23 570.71,255.94 571.21,254.82 571.71,255.60 572.21,257.06 572.70,256.13 573.20,257.13 573.70,257.04 574.20,256.73 574.70,258.71 575.19,259.81 575.69,259.51 576.19,259.43 576.69,260.76 577.19,261.37 577.68,260.73 578.18,260.94 578.68,260.52 579.18,260.01 579.68,260.33 580.17,259.77 580.67,260.13 581.17,259.65 581.67,258.75 582.17,257.93 582.66,257.88 583.16,257.87 583.66,257.24 584.16,255.78 584.66,255.72 585.15,254.41 585.65,253.37 586.15,253.18 586.65,253.48 587.15,253.28 587.64,252.84 588.14,252.88 588.64,252.30 589.14,250.95 589.64,250.96 590.13,250.15 590.63,250.03 591.13,249.95 591.63,249.34 592.13,248.22 592.62,248.83 593.12,249.16 593.62,249.59 594.12,249.74 594.62,249.50 595.11,249.20 595.61,250.67 596.11,251.94 596.61,252.61 597.11,252.97 597.60,254.75 598.10,255.11 598.60,255.16 599.10,256.02 599.60,256.16 600.09,256.74 600.59,256.91 601.09,257.31 601.59,257.35 602.09,257.19 602.58,257.89 603.08,258.78 603.58,258.07 604.08,258.11 604.58,257.86 605.07,259.02 605.57,258.96 606.07,259.72 606.57,259.08 607.07,259.88 607.56,259.44 608.06,259.36 608.56,259.95 609.06,259.49 609.56,259.05 610.05,259.73 610.55,259.38 611.05,259.98 611.55,261.04 612.05,259.51 612.54,258.68 613.04,256.99 613.54,256.05 614.04,256.41 614.54,256.07 615.03,255.56 615.53,255.11 616.03,253.72 616.53,252.18 617.03,253.30 617.52,253.22 618.02,253.64 618.52,253.00 619.02,253.09 619.52,252.20 620.01,251.99 620.51,251.68 621.01,251.76 621.51,252.55 622.01,252.72 622.50,250.66 623.00,251.54 623.50,252.18 624.00,253.14 624.50,253.31 624.99,252.98 625.49,252.99 625.99,253.60 626.49,253.92 626.99,255.70 627.48,256.31 627.98,256.51 628.48,257.45 628.98,258.93 629.48,258.40 629.97,258.50 630.47,258.44 630.97,257.91 631.47,258.15 631.97,258.20 632.46,259.26 632.96,259.89 633.46,260.61 633.96,260.03 634.46,261.00 634.95,260.35 635.45,260.66 635.95,261.88 636.45,262.58 636.95,262.69 637.44,263.35 637.94,262.97 638.44,261.91 638.94,261.38 639.44,260.72 639.93,261.01 640.43,260.50 640.93,260.29 641.43,259.93 641.93,259.26 642.42,261.57 642.92,261.68 643.42,259.43 643.92,259.64 644.42,258.85 644.91,257.19 645.41,257.35 645.91,257.45 646.41,257.54 646.91,257.75 647.40,256.40 647.90,256.05 648.40,256.13" fill="none" stroke="#1f77b4" stroke-width="1.2" stroke-linejoin="round" />
<polyline points="449.20,258.00 648.60,260.80" fill="none" stroke="#ff0000" stroke-width="1.4" stroke-linejoin="round" stroke-dasharray="3.7 3.4" stroke-opacity="0.85"/>
</g>
<rect x="439.3" y="225.55" width="219.3" height="45.75" fill="none" stroke="#8a8a8a" stroke-width="0.8"/>
<line x1="436.50" y1="234.50" x2="439.30" y2="234.50" stroke="#8a8a8a" stroke-width="0.8" />
<text x="414.68" y="238.30" font-family='"Liberation Sans", sans-serif' font-size="9.85" fill="#000" stroke="#000" stroke-width="0.08" textLength="21.29" lengthAdjust="spacingAndGlyphs">−0.8</text>
<line x1="436.50" y1="257.90" x2="439.30" y2="257.90" stroke="#8a8a8a" stroke-width="0.8" />
<text x="414.67" y="261.70" font-family='"Liberation Sans", sans-serif' font-size="9.85" fill="#000" stroke="#000" stroke-width="0.08" textLength="21.25" lengthAdjust="spacingAndGlyphs">−1.0</text>
<line x1="449.20" y1="271.30" x2="449.20" y2="274.10" stroke="#8a8a8a" stroke-width="0.8" />
<text x="446.53" y="281.40" font-family='"Liberation Sans", sans-serif' font-size="9.85" fill="#000" stroke="#000" stroke-width="0.08" textLength="5.33" lengthAdjust="spacingAndGlyphs">0</text>
<line x1="474.10" y1="271.30" x2="474.10" y2="274.10" stroke="#8a8a8a" stroke-width="0.8" />
<text x="468.57" y="281.40" font-family='"Liberation Sans", sans-serif' font-size="9.85" fill="#000" stroke="#000" stroke-width="0.08" textLength="11.06" lengthAdjust="spacingAndGlyphs">50</text>
<line x1="499.00" y1="271.30" x2="499.00" y2="274.10" stroke="#8a8a8a" stroke-width="0.8" />
<text x="490.34" y="281.40" font-family='"Liberation Sans", sans-serif' font-size="9.85" fill="#000" stroke="#000" stroke-width="0.08" textLength="16.93" lengthAdjust="spacingAndGlyphs">100</text>
<line x1="523.90" y1="271.30" x2="523.90" y2="274.10" stroke="#8a8a8a" stroke-width="0.8" />
<text x="515.24" y="281.40" font-family='"Liberation Sans", sans-serif' font-size="9.85" fill="#000" stroke="#000" stroke-width="0.08" textLength="16.93" lengthAdjust="spacingAndGlyphs">150</text>
<line x1="548.80" y1="271.30" x2="548.80" y2="274.10" stroke="#8a8a8a" stroke-width="0.8" />
<text x="540.24" y="281.40" font-family='"Liberation Sans", sans-serif' font-size="9.85" fill="#000" stroke="#000" stroke-width="0.08" textLength="17.01" lengthAdjust="spacingAndGlyphs">200</text>
<line x1="573.70" y1="271.30" x2="573.70" y2="274.10" stroke="#8a8a8a" stroke-width="0.8" />
<text x="565.14" y="281.40" font-family='"Liberation Sans", sans-serif' font-size="9.85" fill="#000" stroke="#000" stroke-width="0.08" textLength="17.01" lengthAdjust="spacingAndGlyphs">250</text>
<line x1="598.60" y1="271.30" x2="598.60" y2="274.10" stroke="#8a8a8a" stroke-width="0.8" />
<text x="590.18" y="281.40" font-family='"Liberation Sans", sans-serif' font-size="9.85" fill="#000" stroke="#000" stroke-width="0.08" textLength="16.85" lengthAdjust="spacingAndGlyphs">300</text>
<line x1="623.50" y1="271.30" x2="623.50" y2="274.10" stroke="#8a8a8a" stroke-width="0.8" />
<text x="615.08" y="281.40" font-family='"Liberation Sans", sans-serif' font-size="9.85" fill="#000" stroke="#000" stroke-width="0.08" textLength="16.85" lengthAdjust="spacingAndGlyphs">350</text>
<line x1="648.40" y1="271.30" x2="648.40" y2="274.10" stroke="#8a8a8a" stroke-width="0.8" />
<text x="640.01" y="281.40" font-family='"Liberation Sans", sans-serif' font-size="9.85" fill="#000" stroke="#000" stroke-width="0.08" textLength="16.95" lengthAdjust="spacingAndGlyphs">400</text>
<text x="-262.91" y="410.30" font-family='"Liberation Sans", sans-serif' font-size="9.96" fill="#000" stroke="#000" stroke-width="0.08" textLength="30.65" lengthAdjust="spacingAndGlyphs" transform="rotate(-90 0 0)">Energy</text>
<text x="525.77" y="296.60" font-family='"Liberation Sans", sans-serif' font-size="12.08" fill="#000" stroke="#000" stroke-width="0.2" textLength="54.31" lengthAdjust="spacingAndGlyphs">Iterations</text>
<text x="532.60" y="223.70" font-family='"Liberation Sans", sans-serif' font-size="15.26" fill="#000" stroke="#000" stroke-width="0.2" textLength="41.91" lengthAdjust="spacingAndGlyphs">g=0.4</text>
<text x="365.20" y="244.20" font-family='"Liberation Sans", sans-serif' font-size="19.07" font-weight="bold" fill="#000" stroke="#000" stroke-width="0.35" textLength="9.91" lengthAdjust="spacingAndGlyphs">c</text>
</svg>
</body></html>
